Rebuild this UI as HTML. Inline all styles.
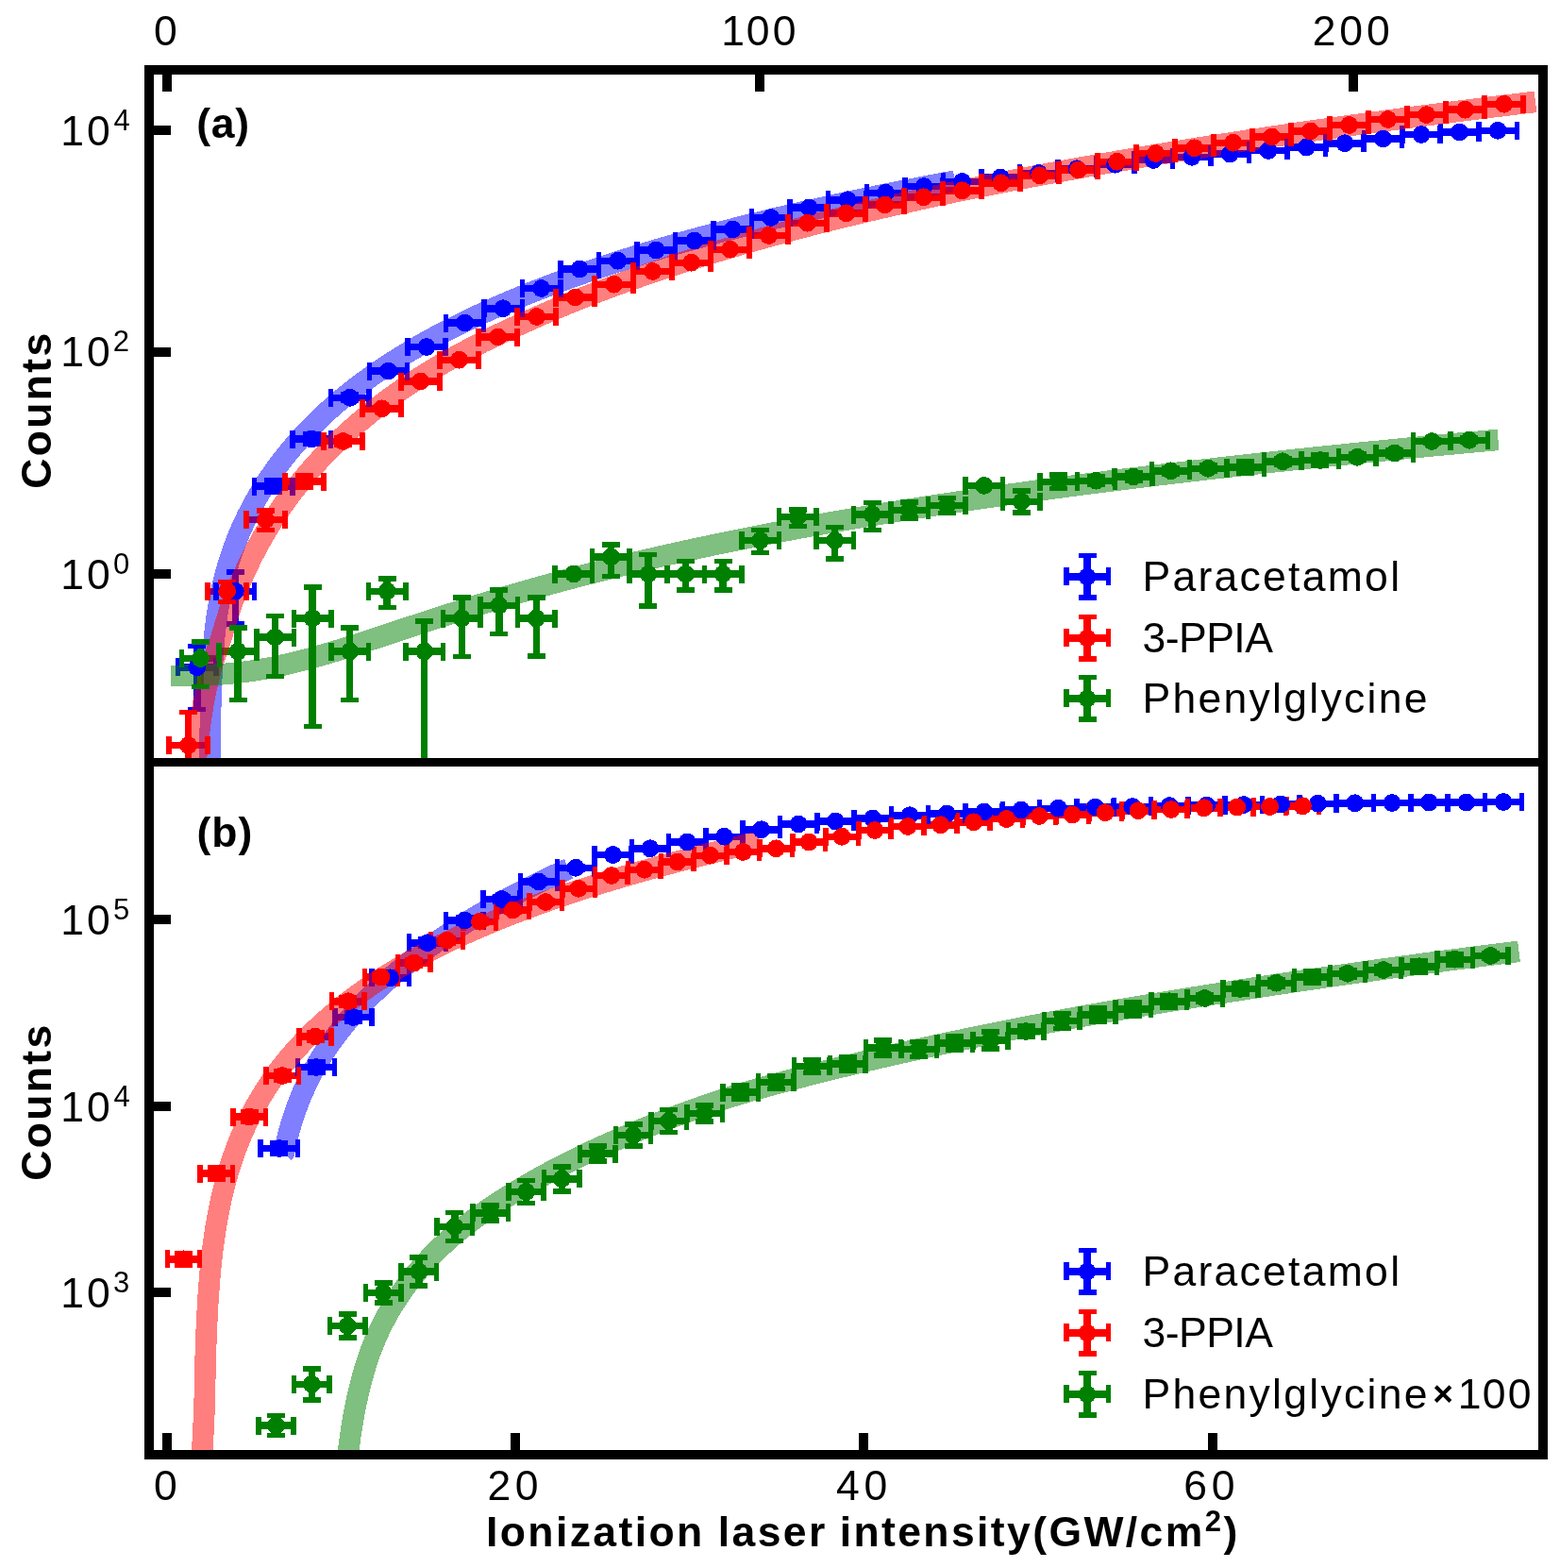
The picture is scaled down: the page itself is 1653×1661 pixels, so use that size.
<!DOCTYPE html>
<html lang="en"><head><meta charset="utf-8"><title>Ionization laser intensity</title>
<style>html,body{margin:0;padding:0;background:#fff}svg{display:block}text{font-family:"Liberation Sans",sans-serif;fill:#000}.b{font-weight:bold}</style></head><body>
<svg width="1653" height="1661" viewBox="0 0 1653 1661">
<rect width="1653" height="1661" fill="#fff"/>
<defs><clipPath id="ct"><rect x="158" y="74" width="1477" height="733.5"/></clipPath><clipPath id="cb"><rect x="158" y="807.5" width="1477" height="733.5"/></clipPath></defs>
<g clip-path="url(#ct)" shape-rendering="crispEdges">
<path fill="#0000ff" d="M188.55 703.15H228.95V710.65H188.55ZM229.09 622.5H269.49V630H229.09ZM269.63 511.25H310.03V518.75H269.63ZM310.17 461.25H350.57V468.75H310.17ZM350.71 417.5H391.11V425H350.71ZM391.25 389.25H431.65V396.75H391.25ZM431.79 363.75H472.19V371.25H431.79ZM472.33 338.25H512.73V345.75H472.33ZM512.87 323H553.27V330.5H512.87ZM553.41 301.75H593.81V309.25H553.41ZM593.95 281.25H634.35V288.75H593.95ZM634.49 272.5H674.89V280H634.49ZM675.03 261.25H715.43V268.75H675.03ZM715.57 251.25H755.97V258.75H715.57ZM756.11 239.25H796.51V246.75H756.11ZM796.65 226.75H837.05V234.25H796.65ZM837.19 216.25H877.59V223.75H837.19ZM877.73 208H918.13V215.5H877.73ZM918.27 200.5H958.67V208H918.27ZM958.81 193.75H999.21V201.25H958.81ZM999.35 188.75H1039.75V196.25H999.35ZM1039.89 184.25H1080.29V191.75H1039.89ZM1080.43 179.75H1120.83V187.25H1080.43ZM1120.97 175H1161.37V182.5H1120.97ZM1161.51 170.5H1201.91V178H1161.51ZM1202.05 165.75H1242.45V173.25H1202.05ZM1242.59 162.5H1282.99V170H1242.59ZM1283.13 159.25H1323.53V166.75H1283.13ZM1323.67 155.75H1364.07V163.25H1323.67ZM1364.21 152.25H1404.61V159.75H1364.21ZM1404.75 148H1445.15V155.5H1404.75ZM1445.29 143.25H1485.69V150.75H1445.29ZM1485.83 138.75H1526.23V146.25H1485.83ZM1526.37 136.25H1566.77V143.75H1526.37ZM1566.91 134.55H1607.31V142.05H1566.91ZM205 684.25H212.5V751.25H205ZM245.54 605.75H253.04V660.75H245.54ZM286.08 509H293.58V521H286.08ZM326.62 460H334.12V470H326.62ZM367.16 418H374.66V424.5H367.16Z"/>
<path fill="#ff0000" d="M179.1 785.75H220.1V793.25H179.1ZM220.1 622.5H261.1V630H220.1ZM261.1 546.75H302.1V554.25H261.1ZM302.1 506.25H343.1V513.75H302.1ZM343.1 463.75H384.1V471.25H343.1ZM384.1 429H425.1V436.5H384.1ZM425.1 400.25H466.1V407.75H425.1ZM466.1 377.5H507.1V385H466.1ZM507.1 353.25H548.1V360.75H507.1ZM548.1 331.75H589.1V339.25H548.1ZM589.1 311.25H630.1V318.75H589.1ZM630.1 297.5H671.1V305H630.1ZM671.1 283.75H712.1V291.25H671.1ZM712.1 274.5H753.1V282H712.1ZM753.1 260.5H794.1V268H753.1ZM794.1 245.75H835.1V253.25H794.1ZM835.1 232.5H876.1V240H835.1ZM876.1 222H917.1V229.5H876.1ZM917.1 213.25H958.1V220.75H917.1ZM958.1 205H999.1V212.5H958.1ZM999.1 198H1040.1V205.5H999.1ZM1040.1 190H1081.1V197.5H1040.1ZM1081.1 182H1122.1V189.5H1081.1ZM1122.1 176.25H1163.1V183.75H1122.1ZM1163.1 167.5H1204.1V175H1163.1ZM1204.1 158.75H1245.1V166.25H1204.1ZM1245.1 153H1286.1V160.5H1245.1ZM1286.1 147.5H1327.1V155H1286.1ZM1327.1 141.25H1368.1V148.75H1327.1ZM1368.1 135.25H1409.1V142.75H1368.1ZM1409.1 128.75H1450.1V136.25H1409.1ZM1450.1 122.75H1491.1V130.25H1450.1ZM1491.1 117.85H1532.1V125.35H1491.1ZM1532.1 112.45H1573.1V119.95H1532.1ZM1573.1 106.55H1614.1V114.05H1573.1ZM195.85 754.5H203.35V860H195.85ZM236.85 616.5H244.35V637.5H236.85ZM277.85 540.75H285.35V561.25H277.85ZM318.85 504H326.35V516H318.85ZM359.85 463.5H367.35V471.5H359.85Z"/>
<path fill="#008000" d="M192.7 693.75H232.3V701.25H192.7ZM232.24 686.25H271.84V693.75H232.24ZM271.78 671.25H311.38V678.75H271.78ZM311.32 651.25H350.92V658.75H311.32ZM350.86 686.25H390.46V693.75H350.86ZM390.4 622.5H430V630H390.4ZM429.94 686.25H469.54V693.75H429.94ZM469.48 651.25H509.08V658.75H469.48ZM509.02 637.5H548.62V645H509.02ZM548.56 651.25H588.16V658.75H548.56ZM588.1 604.25H627.7V611.75H588.1ZM627.64 586.25H667.24V593.75H627.64ZM667.18 604.25H706.78V611.75H667.18ZM706.72 604.25H746.32V611.75H706.72ZM746.26 604.25H785.86V611.75H746.26ZM785.8 568.75H825.4V576.25H785.8ZM825.34 543.75H864.94V551.25H825.34ZM864.88 568.75H904.48V576.25H864.88ZM904.42 541.25H944.02V548.75H904.42ZM943.96 536.85H983.56V544.35H943.96ZM983.5 531.75H1023.1V539.25H983.5ZM1023.04 510.65H1062.64V518.15H1023.04ZM1062.58 527.65H1102.18V535.15H1062.58ZM1102.12 506.55H1141.72V514.05H1102.12ZM1141.66 505.5H1181.26V513H1141.66ZM1181.2 501.25H1220.8V508.75H1181.2ZM1220.74 495H1260.34V502.5H1220.74ZM1260.28 492.5H1299.88V500H1260.28ZM1299.82 491.25H1339.42V498.75H1299.82ZM1339.36 485H1378.96V492.5H1339.36ZM1378.9 483.75H1418.5V491.25H1378.9ZM1418.44 480.5H1458.04V488H1418.44ZM1457.98 476.25H1497.58V483.75H1457.98ZM1497.52 463.75H1537.12V471.25H1497.52ZM1537.06 462.5H1576.66V470H1537.06ZM208.75 680H216.25V727.5H208.75ZM248.29 665H255.79V741.25H248.29ZM287.83 652.5H295.33V716.25H287.83ZM327.37 622H334.87V769.5H327.37ZM366.91 665H374.41V741.25H366.91ZM406.45 613H413.95V643.25H406.45ZM445.99 658H453.49V870H445.99ZM485.53 633H493.03V695.5H485.53ZM525.07 625H532.57V671.25H525.07ZM564.61 633H572.11V695H564.61ZM643.69 577H651.19V610.5H643.69ZM683.23 587.5H690.73V642H683.23ZM722.77 594.5H730.27V625H722.77ZM762.31 594.5H769.81V625H762.31ZM801.85 561.25H809.35V585.5H801.85ZM841.39 540H848.89V557.5H841.39ZM880.93 558.25H888.43V592H880.93ZM920.47 532.5H927.97V561.25H920.47ZM960.01 532H967.51V549.2H960.01ZM999.55 527.7H1007.05V543.3H999.55ZM1039.09 513.4H1046.59V515.4H1039.09ZM1078.63 519.9H1086.13V542.9H1078.63ZM1118.17 502.9H1125.67V517.7H1118.17ZM1157.71 505H1165.21V513.5H1157.71ZM1197.25 501H1204.75V509H1197.25ZM1236.79 496H1244.29V502H1236.79ZM1276.33 493H1283.83V499H1276.33ZM1315.87 489H1323.37V501H1315.87ZM1355.41 486H1362.91V492H1355.41ZM1394.95 481.5H1402.45V493.5H1394.95ZM1434.49 481H1441.99V487H1434.49ZM1474.03 477H1481.53V483H1474.03ZM1513.57 465.5H1521.07V469.5H1513.57ZM1553.11 464H1560.61V468H1553.11Z"/>
<path fill="#0000ff" d="M185.8 697.4H191.3V716.4H185.8ZM226.2 697.4H231.7V716.4H226.2ZM199.25 681.5H218.25V687H199.25ZM199.25 748.5H218.25V754H199.25ZM226.34 616.75H231.84V635.75H226.34ZM266.74 616.75H272.24V635.75H266.74ZM239.79 603H258.79V608.5H239.79ZM239.79 658H258.79V663.5H239.79ZM266.88 505.5H272.38V524.5H266.88ZM307.28 505.5H312.78V524.5H307.28ZM280.33 506.25H299.33V511.75H280.33ZM280.33 518.25H299.33V523.75H280.33ZM307.42 455.5H312.92V474.5H307.42ZM347.82 455.5H353.32V474.5H347.82ZM320.87 457.25H339.87V462.75H320.87ZM320.87 467.25H339.87V472.75H320.87ZM347.96 411.75H353.46V430.75H347.96ZM388.36 411.75H393.86V430.75H388.36ZM361.41 415.25H380.41V420.75H361.41ZM361.41 421.75H380.41V427.25H361.41ZM388.5 383.5H394V402.5H388.5ZM428.9 383.5H434.4V402.5H428.9ZM401.95 390.25H420.95V395.75H401.95ZM401.95 390.25H420.95V395.75H401.95ZM429.04 358H434.54V377H429.04ZM469.44 358H474.94V377H469.44ZM442.49 364.75H461.49V370.25H442.49ZM442.49 364.75H461.49V370.25H442.49ZM469.58 332.5H475.08V351.5H469.58ZM509.98 332.5H515.48V351.5H509.98ZM483.03 339.25H502.03V344.75H483.03ZM483.03 339.25H502.03V344.75H483.03ZM510.12 317.25H515.62V336.25H510.12ZM550.52 317.25H556.02V336.25H550.52ZM523.57 324H542.57V329.5H523.57ZM523.57 324H542.57V329.5H523.57ZM550.66 296H556.16V315H550.66ZM591.06 296H596.56V315H591.06ZM564.11 302.75H583.11V308.25H564.11ZM564.11 302.75H583.11V308.25H564.11ZM591.2 275.5H596.7V294.5H591.2ZM631.6 275.5H637.1V294.5H631.6ZM604.65 282.25H623.65V287.75H604.65ZM604.65 282.25H623.65V287.75H604.65ZM631.74 266.75H637.24V285.75H631.74ZM672.14 266.75H677.64V285.75H672.14ZM645.19 273.5H664.19V279H645.19ZM645.19 273.5H664.19V279H645.19ZM672.28 255.5H677.78V274.5H672.28ZM712.68 255.5H718.18V274.5H712.68ZM685.73 262.25H704.73V267.75H685.73ZM685.73 262.25H704.73V267.75H685.73ZM712.82 245.5H718.32V264.5H712.82ZM753.22 245.5H758.72V264.5H753.22ZM726.27 252.25H745.27V257.75H726.27ZM726.27 252.25H745.27V257.75H726.27ZM753.36 233.5H758.86V252.5H753.36ZM793.76 233.5H799.26V252.5H793.76ZM766.81 240.25H785.81V245.75H766.81ZM766.81 240.25H785.81V245.75H766.81ZM793.9 221H799.4V240H793.9ZM834.3 221H839.8V240H834.3ZM807.35 227.75H826.35V233.25H807.35ZM807.35 227.75H826.35V233.25H807.35ZM834.44 210.5H839.94V229.5H834.44ZM874.84 210.5H880.34V229.5H874.84ZM847.89 217.25H866.89V222.75H847.89ZM847.89 217.25H866.89V222.75H847.89ZM874.98 202.25H880.48V221.25H874.98ZM915.38 202.25H920.88V221.25H915.38ZM888.43 209H907.43V214.5H888.43ZM888.43 209H907.43V214.5H888.43ZM915.52 194.75H921.02V213.75H915.52ZM955.92 194.75H961.42V213.75H955.92ZM928.97 201.5H947.97V207H928.97ZM928.97 201.5H947.97V207H928.97ZM956.06 188H961.56V207H956.06ZM996.46 188H1001.96V207H996.46ZM969.51 194.75H988.51V200.25H969.51ZM969.51 194.75H988.51V200.25H969.51ZM996.6 183H1002.1V202H996.6ZM1037 183H1042.5V202H1037ZM1010.05 189.75H1029.05V195.25H1010.05ZM1010.05 189.75H1029.05V195.25H1010.05ZM1037.14 178.5H1042.64V197.5H1037.14ZM1077.54 178.5H1083.04V197.5H1077.54ZM1050.59 185.25H1069.59V190.75H1050.59ZM1050.59 185.25H1069.59V190.75H1050.59ZM1077.68 174H1083.18V193H1077.68ZM1118.08 174H1123.58V193H1118.08ZM1091.13 180.75H1110.13V186.25H1091.13ZM1091.13 180.75H1110.13V186.25H1091.13ZM1118.22 169.25H1123.72V188.25H1118.22ZM1158.62 169.25H1164.12V188.25H1158.62ZM1131.67 176H1150.67V181.5H1131.67ZM1131.67 176H1150.67V181.5H1131.67ZM1158.76 164.75H1164.26V183.75H1158.76ZM1199.16 164.75H1204.66V183.75H1199.16ZM1172.21 171.5H1191.21V177H1172.21ZM1172.21 171.5H1191.21V177H1172.21ZM1199.3 160H1204.8V179H1199.3ZM1239.7 160H1245.2V179H1239.7ZM1212.75 166.75H1231.75V172.25H1212.75ZM1212.75 166.75H1231.75V172.25H1212.75ZM1239.84 156.75H1245.34V175.75H1239.84ZM1280.24 156.75H1285.74V175.75H1280.24ZM1253.29 163.5H1272.29V169H1253.29ZM1253.29 163.5H1272.29V169H1253.29ZM1280.38 153.5H1285.88V172.5H1280.38ZM1320.78 153.5H1326.28V172.5H1320.78ZM1293.83 160.25H1312.83V165.75H1293.83ZM1293.83 160.25H1312.83V165.75H1293.83ZM1320.92 150H1326.42V169H1320.92ZM1361.32 150H1366.82V169H1361.32ZM1334.37 156.75H1353.37V162.25H1334.37ZM1334.37 156.75H1353.37V162.25H1334.37ZM1361.46 146.5H1366.96V165.5H1361.46ZM1401.86 146.5H1407.36V165.5H1401.86ZM1374.91 153.25H1393.91V158.75H1374.91ZM1374.91 153.25H1393.91V158.75H1374.91ZM1402 142.25H1407.5V161.25H1402ZM1442.4 142.25H1447.9V161.25H1442.4ZM1415.45 149H1434.45V154.5H1415.45ZM1415.45 149H1434.45V154.5H1415.45ZM1442.54 137.5H1448.04V156.5H1442.54ZM1482.94 137.5H1488.44V156.5H1482.94ZM1455.99 144.25H1474.99V149.75H1455.99ZM1455.99 144.25H1474.99V149.75H1455.99ZM1483.08 133H1488.58V152H1483.08ZM1523.48 133H1528.98V152H1523.48ZM1496.53 139.75H1515.53V145.25H1496.53ZM1496.53 139.75H1515.53V145.25H1496.53ZM1523.62 130.5H1529.12V149.5H1523.62ZM1564.02 130.5H1569.52V149.5H1564.02ZM1537.07 137.25H1556.07V142.75H1537.07ZM1537.07 137.25H1556.07V142.75H1537.07ZM1564.16 128.8H1569.66V147.8H1564.16ZM1604.56 128.8H1610.06V147.8H1604.56ZM1577.61 135.55H1596.61V141.05H1577.61ZM1577.61 135.55H1596.61V141.05H1577.61Z"/>
<path d="M222.21 900 L222.21 899.69 L222.21 898.29 L222.21 895.44 L222.22 891.09 L222.22 885.43 L222.23 878.78 L222.24 871.48 L222.26 863.83 L222.27 856.07 L222.29 848.36 L222.31 840.81 L222.33 833.49 L222.36 826.42 L222.39 819.62 L222.43 813.1 L222.46 806.84 L222.51 800.85 L222.55 795.1 L222.6 789.58 L222.65 784.28 L222.71 779.18 L222.77 774.27 L222.84 769.54 L222.91 764.98 L222.99 760.57 L223.07 756.31 L223.15 752.19 L223.24 748.19 L223.33 744.31 L223.43 740.54 L223.54 736.88 L223.65 733.32 L223.76 729.85 L223.88 726.47 L224.01 723.17 L224.14 719.95 L224.28 716.8 L224.42 713.72 L224.57 710.71 L224.72 707.76 L224.88 704.87 L225.05 702.04 L225.22 699.26 L225.4 696.53 L225.58 693.84 L225.77 691.21 L225.97 688.61 L226.17 686.06 L226.38 683.55 L226.6 681.07 L226.82 678.63 L227.05 676.23 L227.29 673.86 L227.53 671.51 L227.78 669.2 L228.04 666.92 L228.3 664.66 L228.57 662.43 L228.85 660.22 L229.14 658.04 L229.43 655.88 L229.73 653.74 L230.03 651.63 L230.35 649.53 L230.67 647.45 L231 645.39 L231.34 643.34 L231.68 641.32 L232.03 639.3 L232.39 637.31 L232.76 635.33 L233.13 633.36 L233.52 631.4 L233.91 629.46 L234.31 627.53 L234.72 625.62 L235.13 623.71 L235.55 621.81 L235.99 619.93 L236.43 618.05 L236.88 616.19 L237.33 614.33 L237.8 612.48 L238.27 610.64 L238.75 608.81 L239.24 606.99 L239.74 605.17 L240.25 603.36 L240.77 601.56 L241.29 599.77 L241.83 597.98 L242.37 596.19 L242.93 594.42 L243.49 592.65 L244.06 590.88 L244.64 589.12 L245.22 587.36 L245.82 585.61 L246.43 583.86 L247.05 582.12 L247.67 580.38 L248.31 578.65 L248.95 576.92 L249.6 575.2 L250.27 573.47 L250.94 571.76 L251.62 570.04 L252.32 568.33 L253.02 566.62 L253.73 564.92 L254.45 563.22 L255.18 561.52 L255.92 559.82 L256.67 558.13 L257.43 556.44 L258.2 554.76 L258.98 553.07 L259.78 551.39 L260.58 549.71 L261.39 548.04 L262.21 546.36 L263.04 544.69 L263.88 543.03 L264.73 541.36 L265.6 539.7 L266.47 538.04 L267.35 536.38 L268.25 534.72 L269.15 533.07 L270.07 531.42 L270.99 529.77 L271.93 528.12 L272.88 526.48 L273.83 524.84 L274.8 523.2 L275.78 521.56 L276.77 519.92 L277.77 518.29 L278.78 516.66 L279.81 515.03 L280.84 513.41 L281.89 511.78 L282.94 510.16 L284.01 508.54 L285.09 506.93 L286.18 505.31 L287.28 503.7 L288.39 502.09 L289.51 500.49 L290.65 498.88 L291.8 497.28 L292.95 495.68 L294.12 494.09 L295.3 492.49 L296.5 490.9 L297.7 489.31 L298.92 487.72 L300.14 486.14 L301.38 484.56 L302.63 482.98 L303.9 481.4 L305.17 479.83 L306.46 478.26 L307.75 476.69 L309.06 475.13 L310.39 473.56 L311.72 472 L313.07 470.45 L314.42 468.89 L315.79 467.34 L317.18 465.79 L318.57 464.25 L319.98 462.7 L321.4 461.16 L322.83 459.62 L324.27 458.09 L325.73 456.56 L327.2 455.03 L328.68 453.5 L330.17 451.98 L331.68 450.46 L333.19 448.95 L334.72 447.43 L336.27 445.92 L337.82 444.41 L339.39 442.91 L340.97 441.41 L342.57 439.91 L344.17 438.41 L345.79 436.92 L347.43 435.43 L349.07 433.95 L350.73 432.46 L352.4 430.98 L354.09 429.51 L355.78 428.03 L357.49 426.56 L359.22 425.1 L360.95 423.63 L362.7 422.17 L364.47 420.72 L366.24 419.26 L368.03 417.81 L369.83 416.36 L371.65 414.92 L373.48 413.48 L375.32 412.04 L377.18 410.61 L379.05 409.17 L380.93 407.75 L382.82 406.32 L384.73 404.9 L386.66 403.48 L388.59 402.07 L390.55 400.66 L392.51 399.25 L394.49 397.84 L396.48 396.44 L398.48 395.04 L400.5 393.65 L402.54 392.26 L404.58 390.87 L406.64 389.48 L408.72 388.1 L410.81 386.72 L412.91 385.35 L415.03 383.97 L417.16 382.61 L419.3 381.24 L421.46 379.88 L423.63 378.52 L425.82 377.16 L428.02 375.81 L430.24 374.46 L432.47 373.12 L434.71 371.78 L436.97 370.44 L439.24 369.1 L441.53 367.77 L443.83 366.44 L446.15 365.11 L448.48 363.79 L450.82 362.47 L453.18 361.16 L455.55 359.84 L457.94 358.53 L460.34 357.23 L462.76 355.92 L465.19 354.63 L467.64 353.33 L470.1 352.04 L472.58 350.75 L475.07 349.46 L477.58 348.17 L480.1 346.89 L482.63 345.62 L485.18 344.34 L487.75 343.07 L490.33 341.8 L492.93 340.54 L495.54 339.28 L498.16 338.02 L500.8 336.77 L503.46 335.51 L506.13 334.26 L508.81 333.02 L511.52 331.78 L514.23 330.54 L516.96 329.3 L519.71 328.07 L522.47 326.84 L525.25 325.61 L528.04 324.39 L530.85 323.17 L533.68 321.95 L536.52 320.73 L539.37 319.52 L542.24 318.31 L545.13 317.11 L548.03 315.9 L550.94 314.7 L553.88 313.51 L556.83 312.31 L559.79 311.12 L562.77 309.93 L565.76 308.75 L568.77 307.57 L571.8 306.39 L574.84 305.21 L577.9 304.04 L580.98 302.87 L584.07 301.7 L587.17 300.54 L590.29 299.38 L593.43 298.22 L596.59 297.06 L599.76 295.91 L602.94 294.76 L606.14 293.61 L609.36 292.47 L612.6 291.33 L615.85 290.19 L619.11 289.05 L622.4 287.92 L625.7 286.79 L629.01 285.66 L632.34 284.54 L635.69 283.42 L639.06 282.3 L642.44 281.18 L645.83 280.07 L649.25 278.96 L652.68 277.85 L656.12 276.74 L659.59 275.64 L663.07 274.54 L666.56 273.44 L670.08 272.35 L673.6 271.25 L677.15 270.16 L680.71 269.08 L684.29 267.99 L687.89 266.91 L691.5 265.83 L695.13 264.76 L698.78 263.68 L702.44 262.61 L706.12 261.54 L709.82 260.48 L713.53 259.41 L717.26 258.35 L721.01 257.29 L724.77 256.24 L728.55 255.18 L732.35 254.13 L736.17 253.08 L740 252.04 L743.85 250.99 L747.72 249.95 L751.6 248.92 L755.5 247.88 L759.42 246.85 L763.36 245.81 L767.31 244.79 L771.28 243.76 L775.27 242.74 L779.27 241.71 L783.29 240.69 L787.33 239.68 L791.39 238.66 L795.46 237.65 L799.56 236.64 L803.67 235.63 L807.79 234.63 L811.94 233.63 L816.1 232.63 L820.28 231.63 L824.47 230.63 L828.69 229.64 L832.92 228.65 L837.17 227.66 L841.44 226.67 L845.72 225.69 L850.03 224.71 L854.35 223.73 L858.69 222.75 L863.04 221.77 L867.42 220.8 L871.81 219.83 L876.22 218.86 L880.65 217.89 L885.09 216.93 L889.56 215.97 L894.04 215.01 L898.54 214.05 L903.06 213.09 L907.59 212.14 L912.15 211.19 L916.72 210.24 L921.31 209.29 L925.92 208.35 L930.54 207.4 L935.19 206.46 L939.85 205.53 L944.53 204.59 L949.23 203.65 L953.95 202.72 L958.69 201.79 L963.44 200.86 L968.21 199.94 L973 199.01 L977.81 198.09 L982.64 197.17 L987.49 196.25 L992.35 195.33 L997.24 194.42 L1002.14 193.51 L1007.06 192.6 L1012 191.69" fill="none" stroke="#0000ff" stroke-opacity="0.5" stroke-width="22.6" stroke-linejoin="round" stroke-linecap="butt"/>
<path fill="#ff0000" d="M176.35 780H181.85V799H176.35ZM217.35 780H222.85V799H217.35ZM190.1 751.75H209.1V757.25H190.1ZM190.1 857.25H209.1V862.75H190.1ZM217.35 616.75H222.85V635.75H217.35ZM258.35 616.75H263.85V635.75H258.35ZM231.1 613.75H250.1V619.25H231.1ZM231.1 634.75H250.1V640.25H231.1ZM258.35 541H263.85V560H258.35ZM299.35 541H304.85V560H299.35ZM272.1 538H291.1V543.5H272.1ZM272.1 558.5H291.1V564H272.1ZM299.35 500.5H304.85V519.5H299.35ZM340.35 500.5H345.85V519.5H340.35ZM313.1 501.25H332.1V506.75H313.1ZM313.1 513.25H332.1V518.75H313.1ZM340.35 458H345.85V477H340.35ZM381.35 458H386.85V477H381.35ZM354.1 460.75H373.1V466.25H354.1ZM354.1 468.75H373.1V474.25H354.1ZM381.35 423.25H386.85V442.25H381.35ZM422.35 423.25H427.85V442.25H422.35ZM395.1 430H414.1V435.5H395.1ZM395.1 430H414.1V435.5H395.1ZM422.35 394.5H427.85V413.5H422.35ZM463.35 394.5H468.85V413.5H463.35ZM436.1 401.25H455.1V406.75H436.1ZM436.1 401.25H455.1V406.75H436.1ZM463.35 371.75H468.85V390.75H463.35ZM504.35 371.75H509.85V390.75H504.35ZM477.1 378.5H496.1V384H477.1ZM477.1 378.5H496.1V384H477.1ZM504.35 347.5H509.85V366.5H504.35ZM545.35 347.5H550.85V366.5H545.35ZM518.1 354.25H537.1V359.75H518.1ZM518.1 354.25H537.1V359.75H518.1ZM545.35 326H550.85V345H545.35ZM586.35 326H591.85V345H586.35ZM559.1 332.75H578.1V338.25H559.1ZM559.1 332.75H578.1V338.25H559.1ZM586.35 305.5H591.85V324.5H586.35ZM627.35 305.5H632.85V324.5H627.35ZM600.1 312.25H619.1V317.75H600.1ZM600.1 312.25H619.1V317.75H600.1ZM627.35 291.75H632.85V310.75H627.35ZM668.35 291.75H673.85V310.75H668.35ZM641.1 298.5H660.1V304H641.1ZM641.1 298.5H660.1V304H641.1ZM668.35 278H673.85V297H668.35ZM709.35 278H714.85V297H709.35ZM682.1 284.75H701.1V290.25H682.1ZM682.1 284.75H701.1V290.25H682.1ZM709.35 268.75H714.85V287.75H709.35ZM750.35 268.75H755.85V287.75H750.35ZM723.1 275.5H742.1V281H723.1ZM723.1 275.5H742.1V281H723.1ZM750.35 254.75H755.85V273.75H750.35ZM791.35 254.75H796.85V273.75H791.35ZM764.1 261.5H783.1V267H764.1ZM764.1 261.5H783.1V267H764.1ZM791.35 240H796.85V259H791.35ZM832.35 240H837.85V259H832.35ZM805.1 246.75H824.1V252.25H805.1ZM805.1 246.75H824.1V252.25H805.1ZM832.35 226.75H837.85V245.75H832.35ZM873.35 226.75H878.85V245.75H873.35ZM846.1 233.5H865.1V239H846.1ZM846.1 233.5H865.1V239H846.1ZM873.35 216.25H878.85V235.25H873.35ZM914.35 216.25H919.85V235.25H914.35ZM887.1 223H906.1V228.5H887.1ZM887.1 223H906.1V228.5H887.1ZM914.35 207.5H919.85V226.5H914.35ZM955.35 207.5H960.85V226.5H955.35ZM928.1 214.25H947.1V219.75H928.1ZM928.1 214.25H947.1V219.75H928.1ZM955.35 199.25H960.85V218.25H955.35ZM996.35 199.25H1001.85V218.25H996.35ZM969.1 206H988.1V211.5H969.1ZM969.1 206H988.1V211.5H969.1ZM996.35 192.25H1001.85V211.25H996.35ZM1037.35 192.25H1042.85V211.25H1037.35ZM1010.1 199H1029.1V204.5H1010.1ZM1010.1 199H1029.1V204.5H1010.1ZM1037.35 184.25H1042.85V203.25H1037.35ZM1078.35 184.25H1083.85V203.25H1078.35ZM1051.1 191H1070.1V196.5H1051.1ZM1051.1 191H1070.1V196.5H1051.1ZM1078.35 176.25H1083.85V195.25H1078.35ZM1119.35 176.25H1124.85V195.25H1119.35ZM1092.1 183H1111.1V188.5H1092.1ZM1092.1 183H1111.1V188.5H1092.1ZM1119.35 170.5H1124.85V189.5H1119.35ZM1160.35 170.5H1165.85V189.5H1160.35ZM1133.1 177.25H1152.1V182.75H1133.1ZM1133.1 177.25H1152.1V182.75H1133.1ZM1160.35 161.75H1165.85V180.75H1160.35ZM1201.35 161.75H1206.85V180.75H1201.35ZM1174.1 168.5H1193.1V174H1174.1ZM1174.1 168.5H1193.1V174H1174.1ZM1201.35 153H1206.85V172H1201.35ZM1242.35 153H1247.85V172H1242.35ZM1215.1 159.75H1234.1V165.25H1215.1ZM1215.1 159.75H1234.1V165.25H1215.1ZM1242.35 147.25H1247.85V166.25H1242.35ZM1283.35 147.25H1288.85V166.25H1283.35ZM1256.1 154H1275.1V159.5H1256.1ZM1256.1 154H1275.1V159.5H1256.1ZM1283.35 141.75H1288.85V160.75H1283.35ZM1324.35 141.75H1329.85V160.75H1324.35ZM1297.1 148.5H1316.1V154H1297.1ZM1297.1 148.5H1316.1V154H1297.1ZM1324.35 135.5H1329.85V154.5H1324.35ZM1365.35 135.5H1370.85V154.5H1365.35ZM1338.1 142.25H1357.1V147.75H1338.1ZM1338.1 142.25H1357.1V147.75H1338.1ZM1365.35 129.5H1370.85V148.5H1365.35ZM1406.35 129.5H1411.85V148.5H1406.35ZM1379.1 136.25H1398.1V141.75H1379.1ZM1379.1 136.25H1398.1V141.75H1379.1ZM1406.35 123H1411.85V142H1406.35ZM1447.35 123H1452.85V142H1447.35ZM1420.1 129.75H1439.1V135.25H1420.1ZM1420.1 129.75H1439.1V135.25H1420.1ZM1447.35 117H1452.85V136H1447.35ZM1488.35 117H1493.85V136H1488.35ZM1461.1 123.75H1480.1V129.25H1461.1ZM1461.1 123.75H1480.1V129.25H1461.1ZM1488.35 112.1H1493.85V131.1H1488.35ZM1529.35 112.1H1534.85V131.1H1529.35ZM1502.1 118.85H1521.1V124.35H1502.1ZM1502.1 118.85H1521.1V124.35H1502.1ZM1529.35 106.7H1534.85V125.7H1529.35ZM1570.35 106.7H1575.85V125.7H1570.35ZM1543.1 113.45H1562.1V118.95H1543.1ZM1543.1 113.45H1562.1V118.95H1543.1ZM1570.35 100.8H1575.85V119.8H1570.35ZM1611.35 100.8H1616.85V119.8H1611.35ZM1584.1 107.55H1603.1V113.05H1584.1ZM1584.1 107.55H1603.1V113.05H1584.1Z"/>
<path d="M199 900 L199.4 895.49 L199.79 890.98 L200.19 886.47 L200.59 881.96 L201 877.45 L201.4 872.94 L201.81 868.43 L202.22 863.92 L202.63 859.41 L203.05 854.9 L203.46 850.39 L203.88 845.88 L204.29 841.37 L204.69 836.86 L205.1 832.35 L205.51 827.84 L205.93 823.33 L206.35 818.82 L206.79 814.31 L207.24 809.8 L207.71 805.29 L208.2 800.78 L208.69 796.27 L209.19 791.76 L209.7 787.25 L210.21 782.74 L210.75 778.23 L211.3 773.72 L211.87 769.21 L212.47 764.7 L213.1 760.19 L213.76 755.68 L214.45 751.17 L215.19 746.66 L215.98 742.14 L216.85 737.63 L217.79 733.12 L218.79 728.61 L219.86 724.1 L220.97 719.59 L222.13 715.08 L223.33 710.57 L224.56 706.06 L225.81 701.55 L227.16 697.04 L228.64 692.53 L230.19 688.02 L231.76 683.51 L233.3 679 L234.75 674.49 L236.14 669.98 L237.49 665.47 L238.84 660.96 L240.2 656.45 L241.6 651.94 L243.06 647.43 L244.6 642.92 L246.21 638.41 L247.88 633.9 L249.62 629.39 L251.4 624.88 L253.24 620.37 L255.11 615.86 L257.06 611.35 L259.07 606.84 L261.14 602.33 L263.26 597.82 L265.44 593.31 L267.69 588.8 L270.01 584.29 L272.39 579.78 L274.84 575.27 L277.35 570.76 L279.94 566.25 L282.61 561.74 L285.33 557.23 L288.15 552.72 L291.04 548.21 L294 543.7 L294.26 543.31 L294.73 542.61 L295.34 541.7 L296.06 540.63 L296.88 539.43 L297.79 538.11 L298.77 536.68 L299.83 535.17 L300.96 533.57 L302.15 531.89 L303.41 530.15 L304.72 528.35 L306.08 526.49 L307.51 524.57 L308.98 522.61 L310.5 520.61 L312.07 518.57 L313.69 516.49 L315.35 514.38 L317.06 512.25 L318.81 510.08 L320.6 507.89 L322.44 505.68 L324.31 503.45 L326.23 501.21 L328.18 498.94 L330.17 496.67 L332.2 494.38 L334.26 492.08 L336.36 489.78 L338.5 487.46 L340.67 485.15 L342.88 482.82 L345.11 480.49 L347.39 478.16 L349.69 475.83 L352.03 473.5 L354.39 471.17 L356.79 468.84 L359.22 466.51 L361.69 464.18 L364.18 461.86 L366.7 459.54 L369.25 457.22 L371.83 454.91 L374.44 452.61 L377.07 450.31 L379.74 448.02 L382.43 445.73 L385.15 443.45 L387.9 441.18 L390.68 438.91 L393.48 436.66 L396.31 434.41 L399.16 432.17 L402.05 429.94 L404.95 427.72 L407.88 425.5 L410.84 423.3 L413.83 421.11 L416.83 418.92 L419.87 416.75 L422.92 414.58 L426.01 412.43 L429.11 410.28 L432.24 408.15 L435.4 406.02 L438.57 403.91 L441.77 401.8 L445 399.71 L448.24 397.63 L451.52 395.58 L454.81 393.57 L458.12 391.57 L461.46 389.58 L464.82 387.61 L468.2 385.64 L471.61 383.69 L475.04 381.74 L478.48 379.81 L481.95 377.89 L485.45 375.98 L488.96 374.08 L492.49 372.19 L496.05 370.31 L499.62 368.44 L503.22 366.58 L506.84 364.73 L510.48 362.89 L514.13 361.07 L517.81 359.25 L521.51 357.44 L525.23 355.65 L528.97 353.86 L532.73 352.09 L536.51 350.32 L540.31 348.57 L544.13 346.82 L547.97 345.09 L551.82 343.36 L555.7 341.64 L559.6 339.94 L563.51 338.18 L567.45 336.42 L571.4 334.67 L575.37 332.93 L579.36 331.19 L583.37 329.47 L587.4 327.76 L591.45 326.05 L595.51 324.36 L599.6 322.67 L603.7 320.99 L607.82 319.32 L611.96 317.66 L616.11 316.01 L620.29 314.36 L624.48 312.73 L628.69 311.1 L632.92 309.48 L637.16 307.87 L641.43 306.26 L645.71 304.67 L650 303.08 L654.32 301.5 L658.65 299.93 L663 298.37 L667.37 296.81 L671.75 295.26 L676.15 293.72 L680.57 292.19 L685.01 290.67 L689.46 289.15 L693.93 287.64 L698.41 286.14 L702.91 284.63 L707.43 283.12 L711.97 281.62 L716.52 280.13 L721.09 278.64 L725.67 277.16 L730.27 275.69 L734.89 274.23 L739.52 272.77 L744.17 271.32 L748.83 269.87 L753.51 268.43 L758.21 267 L762.92 265.58 L767.65 264.16 L772.4 262.74 L777.16 261.34 L781.93 259.94 L786.72 258.54 L791.53 257.16 L796.35 255.78 L801.19 254.4 L806.05 253.03 L810.91 251.67 L815.8 250.31 L820.7 248.96 L825.61 247.61 L830.54 246.27 L835.49 244.94 L840.45 243.61 L845.42 242.29 L850.41 240.97 L855.42 239.66 L860.44 238.36 L865.47 237.07 L870.52 235.79 L875.59 234.51 L880.67 233.24 L885.76 231.98 L890.87 230.72 L895.99 229.46 L901.13 228.22 L906.28 226.97 L911.45 225.73 L916.63 224.5 L921.83 223.27 L927.04 222.05 L932.26 220.83 L937.5 219.61 L942.76 218.41 L948.02 217.2 L953.3 216 L958.6 214.81 L963.91 213.62 L969.23 212.44 L974.57 211.26 L979.92 210.08 L985.29 208.91 L990.67 207.75 L996.06 206.58 L1001.47 205.43 L1006.89 204.3 L1012.33 203.17 L1017.77 202.05 L1023.24 200.93 L1028.71 199.81 L1034.2 198.7 L1039.71 197.6 L1045.22 196.5 L1050.75 195.4 L1056.3 194.3 L1061.85 193.22 L1067.43 192.13 L1073.01 191.05 L1078.61 189.97 L1084.22 188.9 L1089.84 187.83 L1095.48 186.77 L1101.13 185.71 L1106.8 184.65 L1112.47 183.6 L1118.16 182.55 L1123.87 181.51 L1129.58 180.47 L1135.31 179.43 L1141.06 178.4 L1146.81 177.37 L1152.58 176.34 L1158.36 175.32 L1164.16 174.31 L1169.96 173.29 L1175.78 172.28 L1181.62 171.28 L1187.46 170.27 L1193.32 169.27 L1199.19 168.28 L1205.08 167.29 L1210.97 166.3 L1216.88 165.31 L1222.81 164.33 L1228.74 163.35 L1234.69 162.38 L1240.65 161.41 L1246.62 160.44 L1252.61 159.47 L1258.6 158.51 L1264.61 157.56 L1270.64 156.6 L1276.67 155.65 L1282.72 154.7 L1288.78 153.76 L1294.85 152.82 L1300.93 151.88 L1307.03 150.94 L1313.14 150.01 L1319.26 149.08 L1325.39 148.16 L1331.54 147.23 L1337.7 146.31 L1343.87 145.4 L1350.05 144.49 L1356.24 143.57 L1362.45 142.67 L1368.66 141.76 L1374.89 140.86 L1381.14 139.96 L1387.39 139.07 L1393.66 138.18 L1399.93 137.29 L1406.22 136.4 L1412.53 135.52 L1418.84 134.64 L1425.16 133.76 L1431.5 132.88 L1437.85 132.01 L1444.21 131.14 L1450.58 130.27 L1456.97 129.41 L1463.36 128.55 L1469.77 127.69 L1476.19 126.83 L1482.62 125.98 L1489.06 125.13 L1495.52 124.28 L1501.98 123.43 L1508.46 122.59 L1514.95 121.75 L1521.45 120.91 L1527.96 120.08 L1534.48 119.25 L1541.02 118.42 L1547.56 117.59 L1554.12 116.76 L1560.69 115.94 L1567.27 115.12 L1573.86 114.3 L1580.46 113.49 L1587.08 112.68 L1593.7 111.87 L1600.34 111.06 L1606.99 110.25 L1613.65 109.45 L1620.32 108.65 L1627 107.85" fill="none" stroke="#ff0000" stroke-opacity="0.5" stroke-width="22.6" stroke-linejoin="round" stroke-linecap="butt"/>
<path fill="#008000" d="M189.95 688H195.45V707H189.95ZM229.55 688H235.05V707H229.55ZM203 677.25H222V682.75H203ZM203 724.75H222V730.25H203ZM229.49 680.5H234.99V699.5H229.49ZM269.09 680.5H274.59V699.5H269.09ZM242.54 662.25H261.54V667.75H242.54ZM242.54 738.5H261.54V744H242.54ZM269.03 665.5H274.53V684.5H269.03ZM308.63 665.5H314.13V684.5H308.63ZM282.08 649.75H301.08V655.25H282.08ZM282.08 713.5H301.08V719H282.08ZM308.57 645.5H314.07V664.5H308.57ZM348.17 645.5H353.67V664.5H348.17ZM321.62 619.25H340.62V624.75H321.62ZM321.62 766.75H340.62V772.25H321.62ZM348.11 680.5H353.61V699.5H348.11ZM387.71 680.5H393.21V699.5H387.71ZM361.16 662.25H380.16V667.75H361.16ZM361.16 738.5H380.16V744H361.16ZM387.65 616.75H393.15V635.75H387.65ZM427.25 616.75H432.75V635.75H427.25ZM400.7 610.25H419.7V615.75H400.7ZM400.7 640.5H419.7V646H400.7ZM427.19 680.5H432.69V699.5H427.19ZM466.79 680.5H472.29V699.5H466.79ZM440.24 655.25H459.24V660.75H440.24ZM440.24 867.25H459.24V872.75H440.24ZM466.73 645.5H472.23V664.5H466.73ZM506.33 645.5H511.83V664.5H506.33ZM479.78 630.25H498.78V635.75H479.78ZM479.78 692.75H498.78V698.25H479.78ZM506.27 631.75H511.77V650.75H506.27ZM545.87 631.75H551.37V650.75H545.87ZM519.32 622.25H538.32V627.75H519.32ZM519.32 668.5H538.32V674H519.32ZM545.81 645.5H551.31V664.5H545.81ZM585.41 645.5H590.91V664.5H585.41ZM558.86 630.25H577.86V635.75H558.86ZM558.86 692.25H577.86V697.75H558.86ZM585.35 598.5H590.85V617.5H585.35ZM624.95 598.5H630.45V617.5H624.95ZM598.4 605.25H617.4V610.75H598.4ZM598.4 605.25H617.4V610.75H598.4ZM624.89 580.5H630.39V599.5H624.89ZM664.49 580.5H669.99V599.5H664.49ZM637.94 574.25H656.94V579.75H637.94ZM637.94 607.75H656.94V613.25H637.94ZM664.43 598.5H669.93V617.5H664.43ZM704.03 598.5H709.53V617.5H704.03ZM677.48 584.75H696.48V590.25H677.48ZM677.48 639.25H696.48V644.75H677.48ZM703.97 598.5H709.47V617.5H703.97ZM743.57 598.5H749.07V617.5H743.57ZM717.02 591.75H736.02V597.25H717.02ZM717.02 622.25H736.02V627.75H717.02ZM743.51 598.5H749.01V617.5H743.51ZM783.11 598.5H788.61V617.5H783.11ZM756.56 591.75H775.56V597.25H756.56ZM756.56 622.25H775.56V627.75H756.56ZM783.05 563H788.55V582H783.05ZM822.65 563H828.15V582H822.65ZM796.1 558.5H815.1V564H796.1ZM796.1 582.75H815.1V588.25H796.1ZM822.59 538H828.09V557H822.59ZM862.19 538H867.69V557H862.19ZM835.64 537.25H854.64V542.75H835.64ZM835.64 554.75H854.64V560.25H835.64ZM862.13 563H867.63V582H862.13ZM901.73 563H907.23V582H901.73ZM875.18 555.5H894.18V561H875.18ZM875.18 589.25H894.18V594.75H875.18ZM901.67 535.5H907.17V554.5H901.67ZM941.27 535.5H946.77V554.5H941.27ZM914.72 529.75H933.72V535.25H914.72ZM914.72 558.5H933.72V564H914.72ZM941.21 531.1H946.71V550.1H941.21ZM980.81 531.1H986.31V550.1H980.81ZM954.26 529.25H973.26V534.75H954.26ZM954.26 546.45H973.26V551.95H954.26ZM980.75 526H986.25V545H980.75ZM1020.35 526H1025.85V545H1020.35ZM993.8 524.95H1012.8V530.45H993.8ZM993.8 540.55H1012.8V546.05H993.8ZM1020.29 504.9H1025.79V523.9H1020.29ZM1059.89 504.9H1065.39V523.9H1059.89ZM1033.34 510.65H1052.34V516.15H1033.34ZM1033.34 512.65H1052.34V518.15H1033.34ZM1059.83 521.9H1065.33V540.9H1059.83ZM1099.43 521.9H1104.93V540.9H1099.43ZM1072.88 517.15H1091.88V522.65H1072.88ZM1072.88 540.15H1091.88V545.65H1072.88ZM1099.37 500.8H1104.87V519.8H1099.37ZM1138.97 500.8H1144.47V519.8H1138.97ZM1112.42 500.15H1131.42V505.65H1112.42ZM1112.42 514.95H1131.42V520.45H1112.42ZM1138.91 499.75H1144.41V518.75H1138.91ZM1178.51 499.75H1184.01V518.75H1178.51ZM1151.96 502.25H1170.96V507.75H1151.96ZM1151.96 510.75H1170.96V516.25H1151.96ZM1178.45 495.5H1183.95V514.5H1178.45ZM1218.05 495.5H1223.55V514.5H1218.05ZM1191.5 498.25H1210.5V503.75H1191.5ZM1191.5 506.25H1210.5V511.75H1191.5ZM1217.99 489.25H1223.49V508.25H1217.99ZM1257.59 489.25H1263.09V508.25H1257.59ZM1231.04 493.25H1250.04V498.75H1231.04ZM1231.04 499.25H1250.04V504.75H1231.04ZM1257.53 486.75H1263.03V505.75H1257.53ZM1297.13 486.75H1302.63V505.75H1297.13ZM1270.58 490.25H1289.58V495.75H1270.58ZM1270.58 496.25H1289.58V501.75H1270.58ZM1297.07 485.5H1302.57V504.5H1297.07ZM1336.67 485.5H1342.17V504.5H1336.67ZM1310.12 486.25H1329.12V491.75H1310.12ZM1310.12 498.25H1329.12V503.75H1310.12ZM1336.61 479.25H1342.11V498.25H1336.61ZM1376.21 479.25H1381.71V498.25H1376.21ZM1349.66 483.25H1368.66V488.75H1349.66ZM1349.66 489.25H1368.66V494.75H1349.66ZM1376.15 478H1381.65V497H1376.15ZM1415.75 478H1421.25V497H1415.75ZM1389.2 478.75H1408.2V484.25H1389.2ZM1389.2 490.75H1408.2V496.25H1389.2ZM1415.69 474.75H1421.19V493.75H1415.69ZM1455.29 474.75H1460.79V493.75H1455.29ZM1428.74 478.25H1447.74V483.75H1428.74ZM1428.74 484.25H1447.74V489.75H1428.74ZM1455.23 470.5H1460.73V489.5H1455.23ZM1494.83 470.5H1500.33V489.5H1494.83ZM1468.28 474.25H1487.28V479.75H1468.28ZM1468.28 480.25H1487.28V485.75H1468.28ZM1494.77 458H1500.27V477H1494.77ZM1534.37 458H1539.87V477H1534.37ZM1507.82 462.75H1526.82V468.25H1507.82ZM1507.82 466.75H1526.82V472.25H1507.82ZM1534.31 456.75H1539.81V475.75H1534.31ZM1573.91 456.75H1579.41V475.75H1573.91ZM1547.36 461.25H1566.36V466.75H1547.36ZM1547.36 465.25H1566.36V470.75H1547.36Z"/>
<path d="M180.5 715.88 L180.5 715.88 L180.5 715.88 L180.51 715.88 L180.51 715.88 L180.52 715.88 L180.54 715.88 L180.56 715.88 L180.58 715.88 L180.61 715.88 L180.64 715.88 L180.68 715.88 L180.72 715.88 L180.77 715.88 L180.82 715.88 L180.89 715.88 L180.95 715.88 L181.03 715.88 L181.11 715.88 L181.2 715.88 L181.29 715.88 L181.39 715.88 L181.5 715.88 L181.62 715.88 L181.75 715.88 L181.88 715.88 L182.03 715.88 L182.18 715.88 L182.34 715.88 L182.5 715.88 L182.68 715.88 L182.87 715.88 L183.06 715.88 L183.27 715.88 L183.48 715.87 L183.71 715.87 L183.94 715.87 L184.18 715.87 L184.44 715.87 L184.7 715.87 L184.98 715.87 L185.26 715.87 L185.56 715.87 L185.86 715.87 L186.18 715.87 L186.51 715.87 L186.85 715.87 L187.2 715.86 L187.56 715.86 L187.94 715.86 L188.32 715.86 L188.72 715.86 L189.13 715.85 L189.55 715.85 L189.98 715.85 L190.43 715.85 L190.88 715.84 L191.35 715.84 L191.84 715.84 L192.33 715.83 L192.84 715.83 L193.36 715.82 L193.89 715.82 L194.44 715.81 L195 715.81 L195.57 715.8 L196.16 715.79 L196.76 715.79 L197.37 715.78 L198 715.77 L198.64 715.76 L199.29 715.75 L199.96 715.74 L200.65 715.73 L201.34 715.72 L202.05 715.7 L202.78 715.69 L203.52 715.67 L204.27 715.66 L205.04 715.64 L205.83 715.62 L206.63 715.6 L207.44 715.58 L208.27 715.56 L209.11 715.54 L209.97 715.51 L210.85 715.48 L211.74 715.46 L212.64 715.43 L213.56 715.39 L214.5 715.36 L215.45 715.32 L216.42 715.28 L217.4 715.24 L218.4 715.2 L219.42 715.16 L220.45 715.11 L221.5 715.06 L222.57 715 L223.65 714.95 L224.74 714.89 L225.86 714.82 L226.99 714.76 L228.14 714.69 L229.3 714.61 L230.48 714.54 L231.68 714.46 L232.9 714.37 L234.13 714.28 L235.38 714.19 L236.65 714.09 L237.93 713.98 L239.24 713.87 L240.56 713.76 L241.89 713.64 L243.25 713.52 L244.62 713.38 L246.01 713.25 L247.42 713.1 L248.85 712.96 L250.29 712.8 L251.76 712.64 L253.24 712.47 L254.74 712.29 L256.26 712.1 L257.79 711.91 L259.35 711.71 L260.92 711.5 L262.51 711.29 L264.13 711.06 L265.76 710.83 L267.4 710.59 L269.07 710.33 L270.76 710.07 L272.47 709.8 L274.19 709.52 L275.94 709.23 L277.7 708.93 L279.48 708.61 L281.29 708.29 L283.11 707.96 L284.95 707.61 L286.81 707.26 L288.69 706.89 L290.6 706.51 L292.52 706.12 L294.46 705.71 L296.42 705.3 L298.4 704.87 L300.4 704.43 L302.42 703.98 L304.47 703.51 L306.53 703.03 L308.61 702.54 L310.72 702.03 L312.84 701.52 L314.98 700.99 L317.15 700.44 L319.34 699.88 L321.54 699.31 L323.77 698.73 L326.02 698.13 L328.29 697.52 L330.58 696.89 L332.9 696.25 L335.23 695.6 L337.58 694.94 L339.96 694.26 L342.36 693.57 L344.78 692.86 L347.22 692.14 L349.68 691.41 L352.17 690.67 L354.67 689.91 L357.2 689.14 L359.75 688.36 L362.32 687.56 L364.91 686.76 L367.53 685.94 L370.17 685.11 L372.83 684.27 L375.51 683.41 L378.22 682.55 L380.94 681.67 L383.69 680.78 L386.46 679.89 L389.26 678.98 L392.08 678.06 L394.92 677.13 L397.78 676.19 L400.66 675.25 L403.57 674.29 L406.5 673.32 L409.46 672.35 L412.43 671.36 L415.44 670.37 L418.46 669.37 L421.51 668.37 L424.58 667.35 L427.67 666.33 L430.79 665.3 L433.93 664.26 L437.09 663.22 L440.28 662.17 L443.49 661.11 L446.72 660.05 L449.98 658.99 L453.26 657.91 L456.57 656.84 L459.9 655.75 L463.25 654.67 L466.63 653.58 L470.04 652.48 L473.46 651.38 L476.91 650.28 L480.39 649.17 L483.89 648.06 L487.41 646.94 L490.96 645.83 L494.53 644.71 L498.13 643.59 L501.75 642.46 L505.4 641.33 L509.07 640.2 L512.76 639.07 L516.48 637.94 L520.23 636.81 L524 635.67 L527.8 634.53 L531.62 633.4 L535.46 632.26 L539.33 631.12 L543.23 629.98 L547.15 628.84 L551.1 627.69 L555.07 626.55 L559.07 625.41 L563.09 624.27 L567.14 623.12 L571.21 621.98 L575.31 620.84 L579.44 619.7 L583.59 618.56 L587.77 617.42 L591.97 616.28 L596.2 615.14 L600.45 614 L604.73 612.86 L609.04 611.73 L613.37 610.59 L617.73 609.46 L622.12 608.33 L626.53 607.2 L630.97 606.07 L635.43 604.94 L639.92 603.81 L644.44 602.68 L648.98 601.56 L653.55 600.44 L658.15 599.32 L662.78 598.2 L667.43 597.08 L672.1 595.97 L676.81 594.85 L681.54 593.74 L686.3 592.63 L691.08 591.53 L695.89 590.42 L700.73 589.32 L705.6 588.22 L710.49 587.12 L715.42 586.02 L720.36 584.93 L725.34 583.83 L730.34 582.74 L735.37 581.66 L740.43 580.57 L745.52 579.49 L750.63 578.41 L755.77 577.33 L760.94 576.25 L766.14 575.18 L771.36 574.11 L776.61 573.04 L781.89 571.98 L787.2 570.91 L792.54 569.85 L797.9 568.79 L803.29 567.74 L808.71 566.68 L814.16 565.63 L819.64 564.59 L825.14 563.54 L830.68 562.5 L836.24 561.46 L841.83 560.42 L847.45 559.38 L853.09 558.35 L858.77 557.32 L864.47 556.29 L870.21 555.27 L875.97 554.24 L881.76 553.22 L887.58 552.21 L893.43 551.19 L899.31 550.18 L905.21 549.17 L911.15 548.16 L917.11 547.16 L923.11 546.16 L929.13 545.16 L935.18 544.16 L941.26 543.17 L947.37 542.18 L953.51 541.19 L959.68 540.2 L965.88 539.22 L972.11 538.24 L978.37 537.26 L984.65 536.28 L990.97 535.31 L997.32 534.34 L1003.69 533.37 L1010.1 532.41 L1016.53 531.44 L1023 530.48 L1029.5 529.52 L1036.02 528.57 L1042.58 527.62 L1049.16 526.66 L1055.78 525.72 L1062.43 524.77 L1069.1 523.83 L1075.81 522.89 L1082.54 521.95 L1089.31 521.01 L1096.11 520.08 L1102.94 519.15 L1109.8 518.22 L1116.68 517.3 L1123.6 516.37 L1130.55 515.45 L1137.53 514.53 L1144.54 513.62 L1151.59 512.7 L1158.66 511.79 L1165.76 510.88 L1172.9 509.97 L1180.06 509.07 L1187.26 508.17 L1194.49 507.27 L1201.74 506.37 L1209.03 505.48 L1216.35 504.58 L1223.71 503.69 L1231.09 502.8 L1238.5 501.92 L1245.95 501.04 L1253.43 500.15 L1260.93 499.28 L1268.47 498.4 L1276.04 497.52 L1283.65 496.65 L1291.28 495.78 L1298.95 494.91 L1306.64 494.05 L1314.37 493.18 L1322.13 492.32 L1329.93 491.46 L1337.75 490.61 L1345.61 489.75 L1353.5 488.9 L1361.42 488.05 L1369.37 487.2 L1377.35 486.36 L1385.37 485.51 L1393.42 484.67 L1401.5 483.83 L1409.61 482.99 L1417.76 482.16 L1425.93 481.32 L1434.14 480.49 L1442.39 479.66 L1450.66 478.84 L1458.97 478.01 L1467.31 477.19 L1475.68 476.37 L1484.08 475.55 L1492.52 474.73 L1500.99 473.91 L1509.5 473.1 L1518.03 472.29 L1526.6 471.48 L1535.2 470.67 L1543.83 469.87 L1552.5 469.06 L1561.2 468.26 L1569.93 467.46 L1578.7 466.67 L1587.5 465.87" fill="none" stroke="#008000" stroke-opacity="0.5" stroke-width="22.6" stroke-linejoin="round" stroke-linecap="butt"/>
<g fill="#0000ff"><circle cx="208.75" cy="706.9" r="9.4"/><circle cx="249.29" cy="626.25" r="9.4"/><circle cx="289.83" cy="515" r="9.4"/><circle cx="330.37" cy="465" r="9.4"/><circle cx="370.91" cy="421.25" r="9.4"/><circle cx="411.45" cy="393" r="9.4"/><circle cx="451.99" cy="367.5" r="9.4"/><circle cx="492.53" cy="342" r="9.4"/><circle cx="533.07" cy="326.75" r="9.4"/><circle cx="573.61" cy="305.5" r="9.4"/><circle cx="614.15" cy="285" r="9.4"/><circle cx="654.69" cy="276.25" r="9.4"/><circle cx="695.23" cy="265" r="9.4"/><circle cx="735.77" cy="255" r="9.4"/><circle cx="776.31" cy="243" r="9.4"/><circle cx="816.85" cy="230.5" r="9.4"/><circle cx="857.39" cy="220" r="9.4"/><circle cx="897.93" cy="211.75" r="9.4"/><circle cx="938.47" cy="204.25" r="9.4"/><circle cx="979.01" cy="197.5" r="9.4"/><circle cx="1019.55" cy="192.5" r="9.4"/><circle cx="1060.09" cy="188" r="9.4"/><circle cx="1100.63" cy="183.5" r="9.4"/><circle cx="1141.17" cy="178.75" r="9.4"/><circle cx="1181.71" cy="174.25" r="9.4"/><circle cx="1222.25" cy="169.5" r="9.4"/><circle cx="1262.79" cy="166.25" r="9.4"/><circle cx="1303.33" cy="163" r="9.4"/><circle cx="1343.87" cy="159.5" r="9.4"/><circle cx="1384.41" cy="156" r="9.4"/><circle cx="1424.95" cy="151.75" r="9.4"/><circle cx="1465.49" cy="147" r="9.4"/><circle cx="1506.03" cy="142.5" r="9.4"/><circle cx="1546.57" cy="140" r="9.4"/><circle cx="1587.11" cy="138.3" r="9.4"/></g>
<g fill="#ff0000"><circle cx="199.6" cy="789.5" r="9.4"/><circle cx="240.6" cy="626.25" r="9.4"/><circle cx="281.6" cy="550.5" r="9.4"/><circle cx="322.6" cy="510" r="9.4"/><circle cx="363.6" cy="467.5" r="9.4"/><circle cx="404.6" cy="432.75" r="9.4"/><circle cx="445.6" cy="404" r="9.4"/><circle cx="486.6" cy="381.25" r="9.4"/><circle cx="527.6" cy="357" r="9.4"/><circle cx="568.6" cy="335.5" r="9.4"/><circle cx="609.6" cy="315" r="9.4"/><circle cx="650.6" cy="301.25" r="9.4"/><circle cx="691.6" cy="287.5" r="9.4"/><circle cx="732.6" cy="278.25" r="9.4"/><circle cx="773.6" cy="264.25" r="9.4"/><circle cx="814.6" cy="249.5" r="9.4"/><circle cx="855.6" cy="236.25" r="9.4"/><circle cx="896.6" cy="225.75" r="9.4"/><circle cx="937.6" cy="217" r="9.4"/><circle cx="978.6" cy="208.75" r="9.4"/><circle cx="1019.6" cy="201.75" r="9.4"/><circle cx="1060.6" cy="193.75" r="9.4"/><circle cx="1101.6" cy="185.75" r="9.4"/><circle cx="1142.6" cy="180" r="9.4"/><circle cx="1183.6" cy="171.25" r="9.4"/><circle cx="1224.6" cy="162.5" r="9.4"/><circle cx="1265.6" cy="156.75" r="9.4"/><circle cx="1306.6" cy="151.25" r="9.4"/><circle cx="1347.6" cy="145" r="9.4"/><circle cx="1388.6" cy="139" r="9.4"/><circle cx="1429.6" cy="132.5" r="9.4"/><circle cx="1470.6" cy="126.5" r="9.4"/><circle cx="1511.6" cy="121.6" r="9.4"/><circle cx="1552.6" cy="116.2" r="9.4"/><circle cx="1593.6" cy="110.3" r="9.4"/></g>
<g fill="#008000"><circle cx="212.5" cy="697.5" r="9.4"/><circle cx="252.04" cy="690" r="9.4"/><circle cx="291.58" cy="675" r="9.4"/><circle cx="331.12" cy="655" r="9.4"/><circle cx="370.66" cy="690" r="9.4"/><circle cx="410.2" cy="626.25" r="9.4"/><circle cx="449.74" cy="690" r="9.4"/><circle cx="489.28" cy="655" r="9.4"/><circle cx="528.82" cy="641.25" r="9.4"/><circle cx="568.36" cy="655" r="9.4"/><circle cx="607.9" cy="608" r="9.4"/><circle cx="647.44" cy="590" r="9.4"/><circle cx="686.98" cy="608" r="9.4"/><circle cx="726.52" cy="608" r="9.4"/><circle cx="766.06" cy="608" r="9.4"/><circle cx="805.6" cy="572.5" r="9.4"/><circle cx="845.14" cy="547.5" r="9.4"/><circle cx="884.68" cy="572.5" r="9.4"/><circle cx="924.22" cy="545" r="9.4"/><circle cx="963.76" cy="540.6" r="9.4"/><circle cx="1003.3" cy="535.5" r="9.4"/><circle cx="1042.84" cy="514.4" r="9.4"/><circle cx="1082.38" cy="531.4" r="9.4"/><circle cx="1121.92" cy="510.3" r="9.4"/><circle cx="1161.46" cy="509.25" r="9.4"/><circle cx="1201" cy="505" r="9.4"/><circle cx="1240.54" cy="498.75" r="9.4"/><circle cx="1280.08" cy="496.25" r="9.4"/><circle cx="1319.62" cy="495" r="9.4"/><circle cx="1359.16" cy="488.75" r="9.4"/><circle cx="1398.7" cy="487.5" r="9.4"/><circle cx="1438.24" cy="484.25" r="9.4"/><circle cx="1477.78" cy="480" r="9.4"/><circle cx="1517.32" cy="467.5" r="9.4"/><circle cx="1556.86" cy="466.25" r="9.4"/></g>
</g>
<g clip-path="url(#cb)" shape-rendering="crispEdges">
<path fill="#0000ff" d="M276.15 1212.75H315.35V1220.25H276.15ZM315.46 1126.75H354.66V1134.25H315.46ZM354.77 1073.75H393.97V1081.25H354.77ZM394.08 1032H433.28V1039.5H394.08ZM433.39 995H472.59V1002.5H433.39ZM472.7 971.25H511.9V978.75H472.7ZM512.01 948.75H551.21V956.25H512.01ZM551.32 930.25H590.52V937.75H551.32ZM590.63 915.5H629.83V923H590.63ZM629.94 901.75H669.14V909.25H629.94ZM669.25 895H708.45V902.5H669.25ZM708.56 888.25H747.76V895.75H708.56ZM747.87 882.5H787.07V890H747.87ZM787.18 875H826.38V882.5H787.18ZM826.49 869.25H865.69V876.75H826.49ZM865.8 866.25H905V873.75H865.8ZM905.11 863.25H944.31V870.75H905.11ZM944.42 860H983.62V867.5H944.42ZM983.73 858.25H1022.93V865.75H983.73ZM1023.04 856.25H1062.24V863.75H1023.04ZM1062.35 854.25H1101.55V861.75H1062.35ZM1101.66 852.5H1140.86V860H1101.66ZM1140.97 851.25H1180.17V858.75H1140.97ZM1180.28 850.75H1219.48V858.25H1180.28ZM1219.59 849.75H1258.79V857.25H1219.59ZM1258.9 849.25H1298.1V856.75H1258.9ZM1298.21 848.75H1337.41V856.25H1298.21ZM1337.52 848.25H1376.72V855.75H1337.52ZM1376.83 847.5H1416.03V855H1376.83ZM1416.14 847H1455.34V854.5H1416.14ZM1455.45 846.75H1494.65V854.25H1455.45ZM1494.76 846.25H1533.96V853.75H1494.76ZM1534.07 846.25H1573.27V853.75H1534.07ZM1573.38 845.75H1612.58V853.25H1573.38ZM292 1210.5H299.5V1222.5H292ZM331.31 1125.05H338.81V1135.95H331.31ZM370.62 1072.6H378.12V1082.4H370.62ZM409.93 1031.4H417.43V1040.1H409.93ZM449.24 994.95H456.74V1002.55H449.24ZM488.55 971.75H496.05V978.25H488.55ZM527.86 949.8H535.36V955.2H527.86ZM567.17 931.85H574.67V936.15H567.17ZM606.48 917.65H613.98V920.85H606.48ZM645.79 904.45H653.29V906.55H645.79ZM685.1 898.25H692.6V899.25H685.1Z"/>
<path fill="#ff0000" d="M177.3 1330H211.7V1337.5H177.3ZM212.18 1239.25H246.58V1246.75H212.18ZM247.06 1179.25H281.46V1186.75H247.06ZM281.94 1135.75H316.34V1143.25H281.94ZM316.82 1094.25H351.22V1101.75H316.82ZM351.7 1057H386.1V1064.5H351.7ZM386.58 1031.25H420.98V1038.75H386.58ZM421.46 1016.25H455.86V1023.75H421.46ZM456.34 992.5H490.74V1000H456.34ZM491.22 972.5H525.62V980H491.22ZM526.1 960.25H560.5V967.75H526.1ZM560.98 951.75H595.38V959.25H560.98ZM595.86 937.5H630.26V945H595.86ZM630.74 923.75H665.14V931.25H630.74ZM665.62 917.5H700.02V925H665.62ZM700.5 909.25H734.9V916.75H700.5ZM735.38 902.5H769.78V910H735.38ZM770.26 898.75H804.66V906.25H770.26ZM805.14 895H839.54V902.5H805.14ZM840.02 888.25H874.42V895.75H840.02ZM874.9 882.5H909.3V890H874.9ZM909.78 875.75H944.18V883.25H909.78ZM944.66 871.75H979.06V879.25H944.66ZM979.54 870H1013.94V877.5H979.54ZM1014.42 867H1048.82V874.5H1014.42ZM1049.3 863.75H1083.7V871.25H1049.3ZM1084.18 860.75H1118.58V868.25H1084.18ZM1119.06 859.25H1153.46V866.75H1119.06ZM1153.94 857H1188.34V864.5H1153.94ZM1188.82 855H1223.22V862.5H1188.82ZM1223.7 853.75H1258.1V861.25H1223.7ZM1258.58 852H1292.98V859.5H1258.58ZM1293.46 851.25H1327.86V858.75H1293.46ZM1328.34 850.75H1362.74V858.25H1328.34ZM1363.22 850H1397.62V857.5H1363.22ZM190.75 1327.45H198.25V1340.05H190.75ZM225.63 1237.15H233.13V1248.85H225.63ZM260.51 1177.6H268.01V1188.4H260.51ZM295.39 1134.55H302.89V1144.45H295.39ZM330.27 1093.5H337.77V1102.5H330.27ZM365.15 1056.7H372.65V1064.8H365.15ZM400.03 1031.4H407.53V1038.6H400.03ZM434.91 1016.85H442.41V1023.15H434.91ZM469.79 993.55H477.29V998.95H469.79ZM504.67 974H512.17V978.5H504.67ZM539.55 962.2H547.05V965.8H539.55ZM574.43 954.15H581.93V956.85H574.43ZM609.31 940.35H616.81V942.15H609.31ZM644.19 927.05H651.69V927.95H644.19Z"/>
<path fill="#008000" d="M273.8 1506.25H311.2V1513.75H273.8ZM311.65 1462.5H349.05V1470H311.65ZM349.5 1400.75H386.9V1408.25H349.5ZM387.35 1365.75H424.75V1373.25H387.35ZM425.2 1343.25H462.6V1350.75H425.2ZM463.05 1295.75H500.45V1303.25H463.05ZM500.9 1281H538.3V1288.5H500.9ZM538.75 1258.75H576.15V1266.25H538.75ZM576.6 1245H614V1252.5H576.6ZM614.45 1218.25H651.85V1225.75H614.45ZM652.3 1198.75H689.7V1206.25H652.3ZM690.15 1183.75H727.55V1191.25H690.15ZM728 1175.75H765.4V1183.25H728ZM765.85 1153.25H803.25V1160.75H765.85ZM803.7 1142.5H841.1V1150H803.7ZM841.55 1125.75H878.95V1133.25H841.55ZM879.4 1123.25H916.8V1130.75H879.4ZM917.25 1106.25H954.65V1113.75H917.25ZM955.1 1107.5H992.5V1115H955.1ZM992.95 1101.25H1030.35V1108.75H992.95ZM1030.8 1098.25H1068.2V1105.75H1030.8ZM1068.65 1088.75H1106.05V1096.25H1068.65ZM1106.5 1077.5H1143.9V1085H1106.5ZM1144.35 1071.25H1181.75V1078.75H1144.35ZM1182.2 1065H1219.6V1072.5H1182.2ZM1220.05 1057H1257.45V1064.5H1220.05ZM1257.9 1053.75H1295.3V1061.25H1257.9ZM1295.75 1043.75H1333.15V1051.25H1295.75ZM1333.6 1037.5H1371V1045H1333.6ZM1371.45 1031.25H1408.85V1038.75H1371.45ZM1409.3 1027.5H1446.7V1035H1409.3ZM1447.15 1023.75H1484.55V1031.25H1447.15ZM1485 1020H1522.4V1027.5H1485ZM1522.85 1012.5H1560.25V1020H1522.85ZM1560.7 1008.75H1598.1V1016.25H1560.7ZM288.75 1499.5H296.25V1520.5H288.75ZM326.6 1449.75H334.1V1482.75H326.6ZM364.45 1392H371.95V1417H364.45ZM402.3 1359H409.8V1380H402.3ZM440.15 1332H447.65V1362H440.15ZM478 1284.5H485.5V1314.5H478ZM515.85 1276.75H523.35V1292.75H515.85ZM553.7 1250.5H561.2V1274.5H553.7ZM591.55 1235.75H599.05V1261.75H591.55ZM629.4 1214H636.9V1230H629.4ZM667.25 1191H674.75V1214H667.25ZM705.1 1175.5H712.6V1199.5H705.1ZM742.95 1171H750.45V1188H742.95ZM780.8 1150H788.3V1164H780.8ZM818.65 1139.25H826.15V1153.25H818.65ZM856.5 1122.5H864V1136.5H856.5ZM894.35 1120H901.85V1134H894.35ZM932.2 1102H939.7V1118H932.2ZM970.05 1103.25H977.55V1119.25H970.05ZM1007.9 1098H1015.4V1112H1007.9ZM1045.75 1093H1053.25V1111H1045.75ZM1083.6 1086.5H1091.1V1098.5H1083.6ZM1121.45 1073.25H1128.95V1089.25H1121.45ZM1159.3 1068H1166.8V1082H1159.3ZM1197.15 1061.75H1204.65V1075.75H1197.15ZM1235 1054.75H1242.5V1066.75H1235ZM1272.85 1053.5H1280.35V1061.5H1272.85ZM1310.7 1041.5H1318.2V1053.5H1310.7ZM1348.55 1037.25H1356.05V1045.25H1348.55ZM1386.4 1029H1393.9V1041H1386.4ZM1424.25 1027.25H1431.75V1035.25H1424.25ZM1462.1 1023.5H1469.6V1031.5H1462.1ZM1499.95 1017.75H1507.45V1029.75H1499.95ZM1537.8 1010.25H1545.3V1022.25H1537.8ZM1575.65 1009.5H1583.15V1015.5H1575.65Z"/>
<path fill="#0000ff" d="M273.4 1207H278.9V1226H273.4ZM312.6 1207H318.1V1226H312.6ZM286.25 1207.75H305.25V1213.25H286.25ZM286.25 1219.75H305.25V1225.25H286.25ZM312.71 1121H318.21V1140H312.71ZM351.91 1121H357.41V1140H351.91ZM325.56 1122.3H344.56V1127.8H325.56ZM325.56 1133.2H344.56V1138.7H325.56ZM352.02 1068H357.52V1087H352.02ZM391.22 1068H396.72V1087H391.22ZM364.87 1069.85H383.87V1075.35H364.87ZM364.87 1079.65H383.87V1085.15H364.87ZM391.33 1026.25H396.83V1045.25H391.33ZM430.53 1026.25H436.03V1045.25H430.53ZM404.18 1028.65H423.18V1034.15H404.18ZM404.18 1037.35H423.18V1042.85H404.18ZM430.64 989.25H436.14V1008.25H430.64ZM469.84 989.25H475.34V1008.25H469.84ZM443.49 992.2H462.49V997.7H443.49ZM443.49 999.8H462.49V1005.3H443.49ZM469.95 965.5H475.45V984.5H469.95ZM509.15 965.5H514.65V984.5H509.15ZM482.8 969H501.8V974.5H482.8ZM482.8 975.5H501.8V981H482.8ZM509.26 943H514.76V962H509.26ZM548.46 943H553.96V962H548.46ZM522.11 947.05H541.11V952.55H522.11ZM522.11 952.45H541.11V957.95H522.11ZM548.57 924.5H554.07V943.5H548.57ZM587.77 924.5H593.27V943.5H587.77ZM561.42 929.1H580.42V934.6H561.42ZM561.42 933.4H580.42V938.9H561.42ZM587.88 909.75H593.38V928.75H587.88ZM627.08 909.75H632.58V928.75H627.08ZM600.73 914.9H619.73V920.4H600.73ZM600.73 918.1H619.73V923.6H600.73ZM627.19 896H632.69V915H627.19ZM666.39 896H671.89V915H666.39ZM640.04 901.7H659.04V907.2H640.04ZM640.04 903.8H659.04V909.3H640.04ZM666.5 889.25H672V908.25H666.5ZM705.7 889.25H711.2V908.25H705.7ZM679.35 895.5H698.35V901H679.35ZM679.35 896.5H698.35V902H679.35ZM705.81 882.5H711.31V901.5H705.81ZM745.01 882.5H750.51V901.5H745.01ZM718.66 889.25H737.66V894.75H718.66ZM718.66 889.25H737.66V894.75H718.66ZM745.12 876.75H750.62V895.75H745.12ZM784.32 876.75H789.82V895.75H784.32ZM757.97 883.5H776.97V889H757.97ZM757.97 883.5H776.97V889H757.97ZM784.43 869.25H789.93V888.25H784.43ZM823.63 869.25H829.13V888.25H823.63ZM797.28 876H816.28V881.5H797.28ZM797.28 876H816.28V881.5H797.28ZM823.74 863.5H829.24V882.5H823.74ZM862.94 863.5H868.44V882.5H862.94ZM836.59 870.25H855.59V875.75H836.59ZM836.59 870.25H855.59V875.75H836.59ZM863.05 860.5H868.55V879.5H863.05ZM902.25 860.5H907.75V879.5H902.25ZM875.9 867.25H894.9V872.75H875.9ZM875.9 867.25H894.9V872.75H875.9ZM902.36 857.5H907.86V876.5H902.36ZM941.56 857.5H947.06V876.5H941.56ZM915.21 864.25H934.21V869.75H915.21ZM915.21 864.25H934.21V869.75H915.21ZM941.67 854.25H947.17V873.25H941.67ZM980.87 854.25H986.37V873.25H980.87ZM954.52 861H973.52V866.5H954.52ZM954.52 861H973.52V866.5H954.52ZM980.98 852.5H986.48V871.5H980.98ZM1020.18 852.5H1025.68V871.5H1020.18ZM993.83 859.25H1012.83V864.75H993.83ZM993.83 859.25H1012.83V864.75H993.83ZM1020.29 850.5H1025.79V869.5H1020.29ZM1059.49 850.5H1064.99V869.5H1059.49ZM1033.14 857.25H1052.14V862.75H1033.14ZM1033.14 857.25H1052.14V862.75H1033.14ZM1059.6 848.5H1065.1V867.5H1059.6ZM1098.8 848.5H1104.3V867.5H1098.8ZM1072.45 855.25H1091.45V860.75H1072.45ZM1072.45 855.25H1091.45V860.75H1072.45ZM1098.91 846.75H1104.41V865.75H1098.91ZM1138.11 846.75H1143.61V865.75H1138.11ZM1111.76 853.5H1130.76V859H1111.76ZM1111.76 853.5H1130.76V859H1111.76ZM1138.22 845.5H1143.72V864.5H1138.22ZM1177.42 845.5H1182.92V864.5H1177.42ZM1151.07 852.25H1170.07V857.75H1151.07ZM1151.07 852.25H1170.07V857.75H1151.07ZM1177.53 845H1183.03V864H1177.53ZM1216.73 845H1222.23V864H1216.73ZM1190.38 851.75H1209.38V857.25H1190.38ZM1190.38 851.75H1209.38V857.25H1190.38ZM1216.84 844H1222.34V863H1216.84ZM1256.04 844H1261.54V863H1256.04ZM1229.69 850.75H1248.69V856.25H1229.69ZM1229.69 850.75H1248.69V856.25H1229.69ZM1256.15 843.5H1261.65V862.5H1256.15ZM1295.35 843.5H1300.85V862.5H1295.35ZM1269 850.25H1288V855.75H1269ZM1269 850.25H1288V855.75H1269ZM1295.46 843H1300.96V862H1295.46ZM1334.66 843H1340.16V862H1334.66ZM1308.31 849.75H1327.31V855.25H1308.31ZM1308.31 849.75H1327.31V855.25H1308.31ZM1334.77 842.5H1340.27V861.5H1334.77ZM1373.97 842.5H1379.47V861.5H1373.97ZM1347.62 849.25H1366.62V854.75H1347.62ZM1347.62 849.25H1366.62V854.75H1347.62ZM1374.08 841.75H1379.58V860.75H1374.08ZM1413.28 841.75H1418.78V860.75H1413.28ZM1386.93 848.5H1405.93V854H1386.93ZM1386.93 848.5H1405.93V854H1386.93ZM1413.39 841.25H1418.89V860.25H1413.39ZM1452.59 841.25H1458.09V860.25H1452.59ZM1426.24 848H1445.24V853.5H1426.24ZM1426.24 848H1445.24V853.5H1426.24ZM1452.7 841H1458.2V860H1452.7ZM1491.9 841H1497.4V860H1491.9ZM1465.55 847.75H1484.55V853.25H1465.55ZM1465.55 847.75H1484.55V853.25H1465.55ZM1492.01 840.5H1497.51V859.5H1492.01ZM1531.21 840.5H1536.71V859.5H1531.21ZM1504.86 847.25H1523.86V852.75H1504.86ZM1504.86 847.25H1523.86V852.75H1504.86ZM1531.32 840.5H1536.82V859.5H1531.32ZM1570.52 840.5H1576.02V859.5H1570.52ZM1544.17 847.25H1563.17V852.75H1544.17ZM1544.17 847.25H1563.17V852.75H1544.17ZM1570.63 840H1576.13V859H1570.63ZM1609.83 840H1615.33V859H1609.83ZM1583.48 846.75H1602.48V852.25H1583.48ZM1583.48 846.75H1602.48V852.25H1583.48Z"/>
<path d="M301 1221.03 L301 1221.03 L301 1221.03 L301 1221.03 L301 1221.02 L301.01 1221.01 L301.01 1220.99 L301.01 1220.97 L301.02 1220.95 L301.02 1220.92 L301.03 1220.89 L301.04 1220.85 L301.05 1220.8 L301.06 1220.75 L301.07 1220.69 L301.08 1220.63 L301.1 1220.56 L301.11 1220.48 L301.13 1220.39 L301.15 1220.3 L301.17 1220.2 L301.19 1220.09 L301.22 1219.98 L301.24 1219.85 L301.27 1219.72 L301.3 1219.58 L301.33 1219.44 L301.36 1219.28 L301.39 1219.11 L301.43 1218.94 L301.47 1218.76 L301.51 1218.57 L301.55 1218.37 L301.59 1218.16 L301.64 1217.94 L301.69 1217.71 L301.74 1217.48 L301.79 1217.23 L301.84 1216.97 L301.9 1216.71 L301.96 1216.44 L302.02 1216.15 L302.08 1215.86 L302.15 1215.56 L302.22 1215.25 L302.29 1214.92 L302.36 1214.59 L302.44 1214.25 L302.51 1213.9 L302.59 1213.54 L302.68 1213.18 L302.76 1212.8 L302.85 1212.41 L302.94 1212.02 L303.03 1211.61 L303.13 1211.2 L303.22 1210.77 L303.33 1210.34 L303.43 1209.9 L303.54 1209.45 L303.64 1208.99 L303.76 1208.52 L303.87 1208.04 L303.99 1207.56 L304.11 1207.06 L304.23 1206.56 L304.36 1206.05 L304.48 1205.53 L304.62 1205 L304.75 1204.47 L304.89 1203.92 L305.03 1203.37 L305.17 1202.81 L305.32 1202.24 L305.47 1201.67 L305.62 1201.09 L305.77 1200.5 L305.93 1199.9 L306.09 1199.3 L306.26 1198.69 L306.43 1198.07 L306.6 1197.44 L306.77 1196.81 L306.95 1196.18 L307.13 1195.53 L307.32 1194.88 L307.5 1194.22 L307.69 1193.56 L307.89 1192.89 L308.08 1192.22 L308.29 1191.54 L308.49 1190.85 L308.7 1190.16 L308.91 1189.46 L309.12 1188.76 L309.34 1188.05 L309.56 1187.33 L309.79 1186.62 L310.01 1185.89 L310.25 1185.16 L310.48 1184.43 L310.72 1183.69 L310.96 1182.95 L311.21 1182.2 L311.46 1181.45 L311.71 1180.7 L311.97 1179.94 L312.23 1179.18 L312.49 1178.41 L312.76 1177.64 L313.03 1176.86 L313.31 1176.08 L313.59 1175.3 L313.87 1174.52 L314.16 1173.73 L314.45 1172.93 L314.74 1172.14 L315.04 1171.34 L315.34 1170.54 L315.65 1169.73 L315.96 1168.92 L316.27 1168.11 L316.59 1167.3 L316.91 1166.48 L317.23 1165.66 L317.56 1164.84 L317.9 1164.01 L318.23 1163.19 L318.57 1162.36 L318.92 1161.53 L319.27 1160.69 L319.62 1159.85 L319.98 1159.02 L320.34 1158.17 L320.71 1157.33 L321.08 1156.49 L321.45 1155.64 L321.83 1154.79 L322.21 1153.94 L322.6 1153.09 L322.99 1152.23 L323.38 1151.38 L323.78 1150.52 L324.18 1149.66 L324.59 1148.8 L325 1147.94 L325.42 1147.07 L325.84 1146.21 L326.26 1145.34 L326.69 1144.47 L327.13 1143.6 L327.56 1142.73 L328.01 1141.86 L328.45 1140.98 L328.9 1140.11 L329.36 1139.23 L329.82 1138.35 L330.28 1137.47 L330.75 1136.59 L331.22 1135.71 L331.7 1134.83 L332.18 1133.95 L332.67 1133.06 L333.16 1132.18 L333.66 1131.29 L334.16 1130.41 L334.66 1129.52 L335.17 1128.63 L335.68 1127.74 L336.2 1126.85 L336.73 1125.96 L337.25 1125.07 L337.79 1124.18 L338.32 1123.28 L338.86 1122.39 L339.41 1121.49 L339.96 1120.6 L340.52 1119.7 L341.08 1118.8 L341.64 1117.91 L342.21 1117.01 L342.79 1116.11 L343.37 1115.21 L343.95 1114.31 L344.54 1113.41 L345.14 1112.51 L345.73 1111.61 L346.34 1110.71 L346.95 1109.8 L347.56 1108.9 L348.18 1108 L348.8 1107.09 L349.43 1106.19 L350.06 1105.28 L350.7 1104.38 L351.34 1103.47 L351.99 1102.56 L352.64 1101.66 L353.3 1100.75 L353.96 1099.84 L354.63 1098.94 L355.31 1098.03 L355.98 1097.12 L356.67 1096.21 L357.35 1095.3 L358.05 1094.39 L358.75 1093.48 L359.45 1092.57 L360.16 1091.66 L360.87 1090.75 L361.59 1089.84 L362.31 1088.93 L363.04 1088.02 L363.78 1087.1 L364.52 1086.19 L365.26 1085.28 L366.01 1084.37 L366.77 1083.46 L367.53 1082.54 L368.29 1081.63 L369.06 1080.72 L369.84 1079.8 L370.62 1078.89 L371.41 1077.98 L372.2 1077.06 L373 1076.15 L373.8 1075.23 L374.61 1074.32 L375.42 1073.4 L376.24 1072.49 L377.06 1071.58 L377.89 1070.66 L378.73 1069.75 L379.57 1068.83 L380.41 1067.92 L381.26 1067 L382.12 1066.09 L382.98 1065.17 L383.85 1064.25 L384.72 1063.34 L385.6 1062.42 L386.49 1061.51 L387.38 1060.59 L388.27 1059.68 L389.17 1058.76 L390.08 1057.85 L390.99 1056.93 L391.91 1056.01 L392.83 1055.1 L393.76 1054.18 L394.69 1053.27 L395.63 1052.35 L396.58 1051.44 L397.53 1050.52 L398.49 1049.6 L399.45 1048.69 L400.42 1047.77 L401.39 1046.86 L402.37 1045.94 L403.35 1045.03 L404.34 1044.11 L405.34 1043.2 L406.34 1042.28 L407.35 1041.37 L408.37 1040.45 L409.39 1039.54 L410.41 1038.62 L411.44 1037.71 L412.48 1036.8 L413.52 1035.88 L414.57 1034.97 L415.62 1034.05 L416.69 1033.14 L417.75 1032.23 L418.82 1031.31 L419.9 1030.4 L420.99 1029.49 L422.08 1028.57 L423.17 1027.66 L424.27 1026.75 L425.38 1025.84 L426.49 1024.92 L427.61 1024.01 L428.74 1023.1 L429.87 1022.19 L431.01 1021.28 L432.15 1020.37 L433.3 1019.46 L434.46 1018.54 L435.62 1017.63 L436.78 1016.72 L437.96 1015.81 L439.14 1014.91 L440.32 1014 L441.52 1013.09 L442.71 1012.18 L443.92 1011.27 L445.13 1010.36 L446.34 1009.45 L447.57 1008.55 L448.79 1007.64 L450.03 1006.73 L451.27 1005.83 L452.52 1004.92 L453.77 1004.01 L455.03 1003.11 L456.3 1002.2 L457.57 1001.3 L458.85 1000.39 L460.13 999.49 L461.42 998.59 L462.72 997.68 L464.02 996.78 L465.33 995.88 L466.65 994.98 L467.97 994.07 L469.3 993.17 L470.63 992.27 L471.97 991.37 L473.32 990.47 L474.67 989.57 L476.03 988.67 L477.4 987.77 L478.77 986.87 L480.15 985.98 L481.54 985.08 L482.93 984.18 L484.33 983.28 L485.73 982.39 L487.14 981.49 L488.56 980.6 L489.98 979.7 L491.41 978.81 L492.85 977.91 L494.3 977.02 L495.75 976.13 L497.2 975.24 L498.67 974.34 L500.13 973.45 L501.61 972.56 L503.09 971.67 L504.58 970.78 L506.08 969.89 L507.58 969 L509.09 968.12 L510.61 967.23 L512.13 966.34 L513.66 965.46 L515.19 964.57 L516.73 963.68 L518.28 962.8 L519.84 961.91 L521.4 961.03 L522.97 960.15 L524.54 959.27 L526.13 958.38 L527.71 957.5 L529.31 956.62 L530.91 955.74 L532.52 954.86 L534.14 953.98 L535.76 953.1 L537.39 952.23 L539.02 951.35 L540.67 950.47 L542.32 949.6 L543.97 948.72 L545.64 947.85 L547.31 946.97 L548.98 946.1 L550.67 945.23 L552.36 944.35 L554.05 943.48 L555.76 942.61 L557.47 941.74 L559.19 940.87 L560.91 940 L562.64 939.13 L564.38 938.27 L566.13 937.4 L567.88 936.53 L569.64 935.67 L571.4 934.8 L573.18 933.94 L574.96 933.08 L576.74 932.21 L578.54 931.35 L580.34 930.49 L582.15 929.63 L583.96 928.77 L585.78 927.91 L587.61 927.05 L589.45 926.19 L591.29 925.34 L593.14 924.48 L595 923.62 L596.86 922.77 L598.74 921.91 L600.61 921.06 L602.5 920.21" fill="none" stroke="#0000ff" stroke-opacity="0.5" stroke-width="22.6" stroke-linejoin="round" stroke-linecap="butt"/>
<path fill="#ff0000" d="M174.55 1324.25H180.05V1343.25H174.55ZM208.95 1324.25H214.45V1343.25H208.95ZM185 1324.7H204V1330.2H185ZM185 1337.3H204V1342.8H185ZM209.43 1233.5H214.93V1252.5H209.43ZM243.83 1233.5H249.33V1252.5H243.83ZM219.88 1234.4H238.88V1239.9H219.88ZM219.88 1246.1H238.88V1251.6H219.88ZM244.31 1173.5H249.81V1192.5H244.31ZM278.71 1173.5H284.21V1192.5H278.71ZM254.76 1174.85H273.76V1180.35H254.76ZM254.76 1185.65H273.76V1191.15H254.76ZM279.19 1130H284.69V1149H279.19ZM313.59 1130H319.09V1149H313.59ZM289.64 1131.8H308.64V1137.3H289.64ZM289.64 1141.7H308.64V1147.2H289.64ZM314.07 1088.5H319.57V1107.5H314.07ZM348.47 1088.5H353.97V1107.5H348.47ZM324.52 1090.75H343.52V1096.25H324.52ZM324.52 1099.75H343.52V1105.25H324.52ZM348.95 1051.25H354.45V1070.25H348.95ZM383.35 1051.25H388.85V1070.25H383.35ZM359.4 1053.95H378.4V1059.45H359.4ZM359.4 1062.05H378.4V1067.55H359.4ZM383.83 1025.5H389.33V1044.5H383.83ZM418.23 1025.5H423.73V1044.5H418.23ZM394.28 1028.65H413.28V1034.15H394.28ZM394.28 1035.85H413.28V1041.35H394.28ZM418.71 1010.5H424.21V1029.5H418.71ZM453.11 1010.5H458.61V1029.5H453.11ZM429.16 1014.1H448.16V1019.6H429.16ZM429.16 1020.4H448.16V1025.9H429.16ZM453.59 986.75H459.09V1005.75H453.59ZM487.99 986.75H493.49V1005.75H487.99ZM464.04 990.8H483.04V996.3H464.04ZM464.04 996.2H483.04V1001.7H464.04ZM488.47 966.75H493.97V985.75H488.47ZM522.87 966.75H528.37V985.75H522.87ZM498.92 971.25H517.92V976.75H498.92ZM498.92 975.75H517.92V981.25H498.92ZM523.35 954.5H528.85V973.5H523.35ZM557.75 954.5H563.25V973.5H557.75ZM533.8 959.45H552.8V964.95H533.8ZM533.8 963.05H552.8V968.55H533.8ZM558.23 946H563.73V965H558.23ZM592.63 946H598.13V965H592.63ZM568.68 951.4H587.68V956.9H568.68ZM568.68 954.1H587.68V959.6H568.68ZM593.11 931.75H598.61V950.75H593.11ZM627.51 931.75H633.01V950.75H627.51ZM603.56 937.6H622.56V943.1H603.56ZM603.56 939.4H622.56V944.9H603.56ZM627.99 918H633.49V937H627.99ZM662.39 918H667.89V937H662.39ZM638.44 924.3H657.44V929.8H638.44ZM638.44 925.2H657.44V930.7H638.44ZM662.87 911.75H668.37V930.75H662.87ZM697.27 911.75H702.77V930.75H697.27ZM673.32 918.5H692.32V924H673.32ZM673.32 918.5H692.32V924H673.32ZM697.75 903.5H703.25V922.5H697.75ZM732.15 903.5H737.65V922.5H732.15ZM708.2 910.25H727.2V915.75H708.2ZM708.2 910.25H727.2V915.75H708.2ZM732.63 896.75H738.13V915.75H732.63ZM767.03 896.75H772.53V915.75H767.03ZM743.08 903.5H762.08V909H743.08ZM743.08 903.5H762.08V909H743.08ZM767.51 893H773.01V912H767.51ZM801.91 893H807.41V912H801.91ZM777.96 899.75H796.96V905.25H777.96ZM777.96 899.75H796.96V905.25H777.96ZM802.39 889.25H807.89V908.25H802.39ZM836.79 889.25H842.29V908.25H836.79ZM812.84 896H831.84V901.5H812.84ZM812.84 896H831.84V901.5H812.84ZM837.27 882.5H842.77V901.5H837.27ZM871.67 882.5H877.17V901.5H871.67ZM847.72 889.25H866.72V894.75H847.72ZM847.72 889.25H866.72V894.75H847.72ZM872.15 876.75H877.65V895.75H872.15ZM906.55 876.75H912.05V895.75H906.55ZM882.6 883.5H901.6V889H882.6ZM882.6 883.5H901.6V889H882.6ZM907.03 870H912.53V889H907.03ZM941.43 870H946.93V889H941.43ZM917.48 876.75H936.48V882.25H917.48ZM917.48 876.75H936.48V882.25H917.48ZM941.91 866H947.41V885H941.91ZM976.31 866H981.81V885H976.31ZM952.36 872.75H971.36V878.25H952.36ZM952.36 872.75H971.36V878.25H952.36ZM976.79 864.25H982.29V883.25H976.79ZM1011.19 864.25H1016.69V883.25H1011.19ZM987.24 871H1006.24V876.5H987.24ZM987.24 871H1006.24V876.5H987.24ZM1011.67 861.25H1017.17V880.25H1011.67ZM1046.07 861.25H1051.57V880.25H1046.07ZM1022.12 868H1041.12V873.5H1022.12ZM1022.12 868H1041.12V873.5H1022.12ZM1046.55 858H1052.05V877H1046.55ZM1080.95 858H1086.45V877H1080.95ZM1057 864.75H1076V870.25H1057ZM1057 864.75H1076V870.25H1057ZM1081.43 855H1086.93V874H1081.43ZM1115.83 855H1121.33V874H1115.83ZM1091.88 861.75H1110.88V867.25H1091.88ZM1091.88 861.75H1110.88V867.25H1091.88ZM1116.31 853.5H1121.81V872.5H1116.31ZM1150.71 853.5H1156.21V872.5H1150.71ZM1126.76 860.25H1145.76V865.75H1126.76ZM1126.76 860.25H1145.76V865.75H1126.76ZM1151.19 851.25H1156.69V870.25H1151.19ZM1185.59 851.25H1191.09V870.25H1185.59ZM1161.64 858H1180.64V863.5H1161.64ZM1161.64 858H1180.64V863.5H1161.64ZM1186.07 849.25H1191.57V868.25H1186.07ZM1220.47 849.25H1225.97V868.25H1220.47ZM1196.52 856H1215.52V861.5H1196.52ZM1196.52 856H1215.52V861.5H1196.52ZM1220.95 848H1226.45V867H1220.95ZM1255.35 848H1260.85V867H1255.35ZM1231.4 854.75H1250.4V860.25H1231.4ZM1231.4 854.75H1250.4V860.25H1231.4ZM1255.83 846.25H1261.33V865.25H1255.83ZM1290.23 846.25H1295.73V865.25H1290.23ZM1266.28 853H1285.28V858.5H1266.28ZM1266.28 853H1285.28V858.5H1266.28ZM1290.71 845.5H1296.21V864.5H1290.71ZM1325.11 845.5H1330.61V864.5H1325.11ZM1301.16 852.25H1320.16V857.75H1301.16ZM1301.16 852.25H1320.16V857.75H1301.16ZM1325.59 845H1331.09V864H1325.59ZM1359.99 845H1365.49V864H1359.99ZM1336.04 851.75H1355.04V857.25H1336.04ZM1336.04 851.75H1355.04V857.25H1336.04ZM1360.47 844.25H1365.97V863.25H1360.47ZM1394.87 844.25H1400.37V863.25H1394.87ZM1370.92 851H1389.92V856.5H1370.92ZM1370.92 851H1389.92V856.5H1370.92Z"/>
<path d="M212.48 1650 L212.49 1649.87 L212.49 1649.28 L212.51 1648.03 L212.54 1646.02 L212.59 1643.19 L212.64 1639.54 L212.71 1635.11 L212.79 1629.99 L212.87 1624.26 L212.97 1618.06 L213.07 1611.47 L213.18 1604.62 L213.3 1597.58 L213.42 1590.44 L213.54 1583.27 L213.66 1576.1 L213.79 1568.99 L213.92 1561.97 L214.05 1555.06 L214.18 1548.27 L214.31 1541.61 L214.47 1535.1 L214.77 1528.73 L215.06 1522.52 L215.35 1516.45 L215.64 1510.52 L215.93 1504.74 L216.2 1499.1 L216.38 1493.6 L216.56 1488.23 L216.74 1482.99 L216.89 1477.87 L216.97 1472.86 L217.06 1467.98 L217.16 1463.2 L217.25 1458.53 L217.36 1453.96 L217.46 1449.48 L217.57 1445.1 L217.69 1440.81 L217.81 1436.61 L217.93 1432.49 L218.06 1428.45 L218.19 1424.49 L218.33 1420.6 L218.47 1416.78 L218.62 1413.03 L218.77 1409.35 L218.93 1405.73 L219.09 1402.17 L219.25 1398.66 L219.43 1395.22 L219.6 1391.83 L219.78 1388.49 L219.97 1385.2 L220.16 1381.97 L220.36 1378.77 L220.56 1375.63 L220.77 1372.53 L220.98 1369.47 L221.2 1366.45 L221.42 1363.47 L221.65 1360.53 L221.88 1357.63 L222.12 1354.76 L222.37 1351.93 L222.62 1349.13 L222.88 1346.37 L223.14 1343.63 L223.41 1340.93 L223.68 1338.26 L223.96 1335.61 L224.25 1333 L224.54 1330.41 L224.84 1327.85 L225.14 1325.31 L225.45 1322.8 L225.77 1320.31 L226.09 1317.85 L226.42 1315.41 L226.75 1312.99 L227.09 1310.6 L227.44 1308.22 L227.79 1305.87 L228.15 1303.53 L228.52 1301.22 L228.89 1298.92 L229.27 1296.65 L229.66 1294.39 L230.05 1292.15 L230.45 1289.92 L230.85 1287.72 L231.27 1285.53 L231.69 1283.35 L232.11 1281.19 L232.54 1279.05 L232.98 1276.92 L233.43 1274.81 L233.88 1272.71 L234.34 1270.62 L234.81 1268.55 L235.28 1266.49 L235.76 1264.44 L236.25 1262.41 L236.74 1260.39 L237.25 1258.38 L237.75 1256.38 L238.27 1254.4 L238.79 1252.43 L239.33 1250.46 L239.86 1248.51 L240.41 1246.57 L240.96 1244.64 L241.52 1242.72 L242.09 1240.82 L242.66 1238.92 L243.25 1237.03 L243.84 1235.15 L244.43 1233.28 L245.04 1231.42 L245.65 1229.57 L246.27 1227.73 L246.9 1225.89 L247.54 1224.07 L248.18 1222.25 L248.83 1220.45 L249.49 1218.65 L250.16 1216.86 L250.83 1215.08 L251.51 1213.3 L252.2 1211.53 L252.9 1209.78 L253.61 1208.02 L254.32 1206.28 L255.05 1204.54 L255.78 1202.82 L256.52 1201.09 L257.26 1199.38 L258.02 1197.67 L258.78 1195.97 L259.55 1194.28 L260.33 1192.59 L261.12 1190.91 L261.92 1189.24 L262.72 1187.57 L263.53 1185.91 L264.35 1184.25 L265.18 1182.61 L266.02 1180.96 L266.87 1179.33 L267.72 1177.7 L268.59 1176.08 L269.46 1174.46 L270.34 1172.85 L271.23 1171.24 L272.13 1169.64 L273.04 1168.05 L273.95 1166.46 L274.88 1164.88 L275.81 1163.3 L276.75 1161.73 L277.7 1160.16 L278.66 1158.6 L279.63 1157.05 L280.61 1155.5 L281.59 1153.95 L282.59 1152.41 L283.59 1150.88 L284.6 1149.35 L285.63 1147.82 L286.66 1146.31 L287.7 1144.79 L288.75 1143.28 L289.81 1141.78 L290.87 1140.28 L291.95 1138.79 L293.04 1137.3 L294.13 1135.81 L295.24 1134.33 L296.35 1132.86 L297.47 1131.39 L298.61 1129.92 L299.75 1128.46 L300.9 1127.01 L302.06 1125.56 L303.23 1124.11 L304.41 1122.67 L305.6 1121.23 L306.8 1119.8 L308.01 1118.37 L309.23 1116.94 L310.45 1115.52 L311.69 1114.11 L312.94 1112.7 L314.19 1111.29 L315.46 1109.89 L316.73 1108.49 L318.02 1107.09 L319.32 1105.7 L320.62 1104.32 L321.94 1102.94 L323.26 1101.56 L324.6 1100.19 L325.94 1098.82 L327.29 1097.45 L328.66 1096.09 L330.03 1094.74 L331.42 1093.38 L332.81 1092.03 L334.22 1090.69 L335.63 1089.35 L337.06 1088.01 L338.49 1086.68 L339.94 1085.35 L341.39 1084.03 L342.86 1082.7 L344.33 1081.39 L345.82 1080.07 L347.31 1078.76 L348.82 1077.46 L350.34 1076.16 L351.86 1074.86 L353.4 1073.56 L354.95 1072.27 L356.51 1070.99 L358.08 1069.7 L359.65 1068.42 L361.24 1067.15 L362.84 1065.87 L364.45 1064.61 L366.08 1063.34 L367.71 1062.08 L369.35 1060.82 L371 1059.57 L372.66 1058.32 L374.34 1057.07 L376.02 1055.82 L377.72 1054.58 L379.42 1053.35 L381.14 1052.11 L382.87 1050.88 L384.61 1049.66 L386.36 1048.43 L388.12 1047.21 L389.89 1046 L391.67 1044.79 L393.46 1043.58 L395.27 1042.37 L397.08 1041.17 L398.91 1039.97 L400.74 1038.77 L402.59 1037.58 L404.45 1036.39 L406.32 1035.2 L408.2 1034.02 L410.09 1032.84 L411.99 1031.66 L413.91 1030.49 L415.83 1029.32 L417.77 1028.15 L419.72 1026.99 L421.67 1025.83 L423.64 1024.67 L425.63 1023.51 L427.62 1022.36 L429.62 1021.21 L431.64 1020.07 L433.66 1018.93 L435.7 1017.79 L437.75 1016.65 L439.81 1015.52 L441.88 1014.39 L443.97 1013.26 L446.06 1012.14 L448.17 1011.02 L450.29 1009.9 L452.42 1008.78 L454.56 1007.67 L456.71 1006.56 L458.87 1005.46 L461.05 1004.35 L463.24 1003.25 L465.44 1002.15 L467.65 1001.06 L469.87 999.97 L472.11 998.88 L474.35 997.79 L476.61 996.71 L478.88 995.63 L481.16 994.55 L483.45 993.47 L485.76 992.4 L488.08 991.33 L490.41 990.27 L492.75 989.2 L495.1 988.14 L497.46 987.08 L499.84 986.03 L502.23 984.97 L504.63 983.92 L507.04 982.87 L509.47 981.83 L511.91 980.79 L514.35 979.75 L516.82 978.71 L519.29 977.67 L521.77 976.64 L524.27 975.61 L526.78 974.59 L529.3 973.56 L531.84 972.54 L534.38 971.52 L536.94 970.5 L539.51 969.49 L542.1 968.48 L544.69 967.47 L547.3 966.46 L549.92 965.46 L552.56 964.46 L555.2 963.46 L557.86 962.46 L560.53 961.47 L563.21 960.48 L565.91 959.49 L568.61 958.5 L571.33 957.52 L574.07 956.53 L576.81 955.55 L579.57 954.58 L582.34 953.6 L585.12 952.63 L587.92 951.66 L590.73 950.69 L593.55 949.73 L596.38 948.76 L599.23 947.8 L602.09 946.84 L604.96 945.89 L607.84 944.93 L610.74 943.98 L613.65 943.03 L616.57 942.08 L619.51 941.14 L622.46 940.2 L625.42 939.26 L628.4 938.32 L631.38 937.38 L634.38 936.45 L637.4 935.52 L640.42 934.59 L643.46 933.66 L646.52 932.73 L649.58 931.81 L652.66 930.89 L655.75 929.97 L658.86 929.06 L661.97 928.14 L665.1 927.23 L668.25 926.32 L671.41 925.41 L674.58 924.51 L677.76 923.6 L680.96 922.7 L684.17 921.8 L687.39 920.9 L690.63 920.01 L693.88 919.11 L697.14 918.22 L700.42 917.33 L703.71 916.44 L707.01 915.56 L710.33 914.68 L713.66 913.79 L717 912.91 L720.36 912.04 L723.73 911.16 L727.11 910.29 L730.51 909.42 L733.92 908.55 L737.34 907.68 L740.78 906.81 L744.23 905.95 L747.7 905.09 L751.18 904.23 L754.67 903.37 L758.17 902.51 L761.69 901.66 L765.23 900.81 L768.77 899.96 L772.34 899.11 L775.91 898.26 L779.5 897.42 L783.1 896.57 L786.71 895.73 L790.34 894.89 L793.99 894.05 L797.64 893.22 L801.32 892.38 L805 891.55" fill="none" stroke="#ff0000" stroke-opacity="0.5" stroke-width="22.6" stroke-linejoin="round" stroke-linecap="butt"/>
<path fill="#008000" d="M271.05 1500.5H276.55V1519.5H271.05ZM308.45 1500.5H313.95V1519.5H308.45ZM283 1496.75H302V1502.25H283ZM283 1517.75H302V1523.25H283ZM308.9 1456.75H314.4V1475.75H308.9ZM346.3 1456.75H351.8V1475.75H346.3ZM320.85 1447H339.85V1452.5H320.85ZM320.85 1480H339.85V1485.5H320.85ZM346.75 1395H352.25V1414H346.75ZM384.15 1395H389.65V1414H384.15ZM358.7 1389.25H377.7V1394.75H358.7ZM358.7 1414.25H377.7V1419.75H358.7ZM384.6 1360H390.1V1379H384.6ZM422 1360H427.5V1379H422ZM396.55 1356.25H415.55V1361.75H396.55ZM396.55 1377.25H415.55V1382.75H396.55ZM422.45 1337.5H427.95V1356.5H422.45ZM459.85 1337.5H465.35V1356.5H459.85ZM434.4 1329.25H453.4V1334.75H434.4ZM434.4 1359.25H453.4V1364.75H434.4ZM460.3 1290H465.8V1309H460.3ZM497.7 1290H503.2V1309H497.7ZM472.25 1281.75H491.25V1287.25H472.25ZM472.25 1311.75H491.25V1317.25H472.25ZM498.15 1275.25H503.65V1294.25H498.15ZM535.55 1275.25H541.05V1294.25H535.55ZM510.1 1274H529.1V1279.5H510.1ZM510.1 1290H529.1V1295.5H510.1ZM536 1253H541.5V1272H536ZM573.4 1253H578.9V1272H573.4ZM547.95 1247.75H566.95V1253.25H547.95ZM547.95 1271.75H566.95V1277.25H547.95ZM573.85 1239.25H579.35V1258.25H573.85ZM611.25 1239.25H616.75V1258.25H611.25ZM585.8 1233H604.8V1238.5H585.8ZM585.8 1259H604.8V1264.5H585.8ZM611.7 1212.5H617.2V1231.5H611.7ZM649.1 1212.5H654.6V1231.5H649.1ZM623.65 1211.25H642.65V1216.75H623.65ZM623.65 1227.25H642.65V1232.75H623.65ZM649.55 1193H655.05V1212H649.55ZM686.95 1193H692.45V1212H686.95ZM661.5 1188.25H680.5V1193.75H661.5ZM661.5 1211.25H680.5V1216.75H661.5ZM687.4 1178H692.9V1197H687.4ZM724.8 1178H730.3V1197H724.8ZM699.35 1172.75H718.35V1178.25H699.35ZM699.35 1196.75H718.35V1202.25H699.35ZM725.25 1170H730.75V1189H725.25ZM762.65 1170H768.15V1189H762.65ZM737.2 1168.25H756.2V1173.75H737.2ZM737.2 1185.25H756.2V1190.75H737.2ZM763.1 1147.5H768.6V1166.5H763.1ZM800.5 1147.5H806V1166.5H800.5ZM775.05 1147.25H794.05V1152.75H775.05ZM775.05 1161.25H794.05V1166.75H775.05ZM800.95 1136.75H806.45V1155.75H800.95ZM838.35 1136.75H843.85V1155.75H838.35ZM812.9 1136.5H831.9V1142H812.9ZM812.9 1150.5H831.9V1156H812.9ZM838.8 1120H844.3V1139H838.8ZM876.2 1120H881.7V1139H876.2ZM850.75 1119.75H869.75V1125.25H850.75ZM850.75 1133.75H869.75V1139.25H850.75ZM876.65 1117.5H882.15V1136.5H876.65ZM914.05 1117.5H919.55V1136.5H914.05ZM888.6 1117.25H907.6V1122.75H888.6ZM888.6 1131.25H907.6V1136.75H888.6ZM914.5 1100.5H920V1119.5H914.5ZM951.9 1100.5H957.4V1119.5H951.9ZM926.45 1099.25H945.45V1104.75H926.45ZM926.45 1115.25H945.45V1120.75H926.45ZM952.35 1101.75H957.85V1120.75H952.35ZM989.75 1101.75H995.25V1120.75H989.75ZM964.3 1100.5H983.3V1106H964.3ZM964.3 1116.5H983.3V1122H964.3ZM990.2 1095.5H995.7V1114.5H990.2ZM1027.6 1095.5H1033.1V1114.5H1027.6ZM1002.15 1095.25H1021.15V1100.75H1002.15ZM1002.15 1109.25H1021.15V1114.75H1002.15ZM1028.05 1092.5H1033.55V1111.5H1028.05ZM1065.45 1092.5H1070.95V1111.5H1065.45ZM1040 1090.25H1059V1095.75H1040ZM1040 1108.25H1059V1113.75H1040ZM1065.9 1083H1071.4V1102H1065.9ZM1103.3 1083H1108.8V1102H1103.3ZM1077.85 1083.75H1096.85V1089.25H1077.85ZM1077.85 1095.75H1096.85V1101.25H1077.85ZM1103.75 1071.75H1109.25V1090.75H1103.75ZM1141.15 1071.75H1146.65V1090.75H1141.15ZM1115.7 1070.5H1134.7V1076H1115.7ZM1115.7 1086.5H1134.7V1092H1115.7ZM1141.6 1065.5H1147.1V1084.5H1141.6ZM1179 1065.5H1184.5V1084.5H1179ZM1153.55 1065.25H1172.55V1070.75H1153.55ZM1153.55 1079.25H1172.55V1084.75H1153.55ZM1179.45 1059.25H1184.95V1078.25H1179.45ZM1216.85 1059.25H1222.35V1078.25H1216.85ZM1191.4 1059H1210.4V1064.5H1191.4ZM1191.4 1073H1210.4V1078.5H1191.4ZM1217.3 1051.25H1222.8V1070.25H1217.3ZM1254.7 1051.25H1260.2V1070.25H1254.7ZM1229.25 1052H1248.25V1057.5H1229.25ZM1229.25 1064H1248.25V1069.5H1229.25ZM1255.15 1048H1260.65V1067H1255.15ZM1292.55 1048H1298.05V1067H1292.55ZM1267.1 1050.75H1286.1V1056.25H1267.1ZM1267.1 1058.75H1286.1V1064.25H1267.1ZM1293 1038H1298.5V1057H1293ZM1330.4 1038H1335.9V1057H1330.4ZM1304.95 1038.75H1323.95V1044.25H1304.95ZM1304.95 1050.75H1323.95V1056.25H1304.95ZM1330.85 1031.75H1336.35V1050.75H1330.85ZM1368.25 1031.75H1373.75V1050.75H1368.25ZM1342.8 1034.5H1361.8V1040H1342.8ZM1342.8 1042.5H1361.8V1048H1342.8ZM1368.7 1025.5H1374.2V1044.5H1368.7ZM1406.1 1025.5H1411.6V1044.5H1406.1ZM1380.65 1026.25H1399.65V1031.75H1380.65ZM1380.65 1038.25H1399.65V1043.75H1380.65ZM1406.55 1021.75H1412.05V1040.75H1406.55ZM1443.95 1021.75H1449.45V1040.75H1443.95ZM1418.5 1024.5H1437.5V1030H1418.5ZM1418.5 1032.5H1437.5V1038H1418.5ZM1444.4 1018H1449.9V1037H1444.4ZM1481.8 1018H1487.3V1037H1481.8ZM1456.35 1020.75H1475.35V1026.25H1456.35ZM1456.35 1028.75H1475.35V1034.25H1456.35ZM1482.25 1014.25H1487.75V1033.25H1482.25ZM1519.65 1014.25H1525.15V1033.25H1519.65ZM1494.2 1015H1513.2V1020.5H1494.2ZM1494.2 1027H1513.2V1032.5H1494.2ZM1520.1 1006.75H1525.6V1025.75H1520.1ZM1557.5 1006.75H1563V1025.75H1557.5ZM1532.05 1007.5H1551.05V1013H1532.05ZM1532.05 1019.5H1551.05V1025H1532.05ZM1557.95 1003H1563.45V1022H1557.95ZM1595.35 1003H1600.85V1022H1595.35ZM1569.9 1006.75H1588.9V1012.25H1569.9ZM1569.9 1012.75H1588.9V1018.25H1569.9Z"/>
<path d="M363.72 1650 L363.73 1649.98 L363.73 1649.89 L363.73 1649.68 L363.74 1649.35 L363.75 1648.87 L363.76 1648.23 L363.78 1647.42 L363.8 1646.42 L363.83 1645.23 L363.86 1643.86 L363.9 1642.29 L363.94 1640.54 L363.98 1638.6 L364.04 1636.48 L364.09 1634.2 L364.16 1631.76 L364.23 1629.17 L364.31 1626.45 L364.39 1623.6 L364.48 1620.64 L364.58 1617.58 L364.68 1614.43 L364.79 1611.21 L364.91 1607.92 L365.03 1604.57 L365.16 1601.18 L365.3 1597.76 L365.45 1594.3 L365.61 1590.83 L365.77 1587.34 L365.94 1583.85 L366.12 1580.35 L366.31 1576.86 L366.51 1573.38 L366.71 1569.91 L366.92 1566.45 L367.15 1563.01 L367.38 1559.6 L367.62 1556.21 L367.87 1552.84 L368.13 1549.5 L368.39 1546.18 L368.67 1542.9 L368.96 1539.65 L369.25 1536.42 L369.64 1533.23 L370.06 1530.07 L370.48 1526.94 L370.9 1523.84 L371.34 1520.78 L371.79 1517.74 L372.25 1514.74 L372.72 1511.77 L373.19 1508.83 L373.68 1505.92 L374.18 1503.04 L374.68 1500.19 L375.2 1497.38 L375.73 1494.59 L376.26 1491.83 L376.81 1489.1 L377.37 1486.39 L377.94 1483.72 L378.52 1481.07 L379.11 1478.44 L379.71 1475.85 L380.32 1473.28 L380.95 1470.73 L381.56 1468.21 L382.18 1465.71 L382.81 1463.24 L383.45 1460.79 L384.1 1458.36 L384.77 1455.95 L385.45 1453.57 L386.14 1451.2 L386.84 1448.86 L387.55 1446.54 L388.28 1444.24 L389.02 1441.95 L389.77 1439.69 L390.54 1437.44 L391.32 1435.22 L392.11 1433.01 L392.91 1430.81 L393.73 1428.64 L394.56 1426.48 L395.41 1424.34 L396.27 1422.21 L397.15 1420.1 L398.05 1418.01 L398.95 1415.93 L399.87 1413.87 L400.8 1411.81 L401.75 1409.78 L402.71 1407.75 L403.69 1405.75 L404.68 1403.75 L405.68 1401.77 L406.7 1399.79 L407.73 1397.84 L408.78 1395.89 L409.83 1393.96 L410.9 1392.03 L411.97 1390.12 L413.07 1388.22 L414.18 1386.33 L415.3 1384.45 L416.44 1382.58 L417.59 1380.73 L418.76 1378.88 L419.94 1377.04 L421.14 1375.21 L422.36 1373.39 L423.59 1371.58 L424.83 1369.78 L426.09 1367.99 L427.37 1366.21 L428.65 1364.43 L429.93 1362.67 L431.23 1360.91 L432.54 1359.16 L433.87 1357.42 L435.21 1355.68 L436.57 1353.96 L437.95 1352.24 L439.34 1350.52 L440.75 1348.82 L442.18 1347.12 L443.62 1345.43 L445.08 1343.75 L446.56 1342.07 L448.06 1340.4 L449.57 1338.74 L451.09 1337.08 L452.64 1335.43 L454.2 1333.78 L455.78 1332.14 L457.38 1330.51 L458.99 1328.88 L460.62 1327.26 L462.27 1325.65 L459.44 1328.32 L461.12 1326.64 L462.82 1324.95 L464.54 1323.28 L466.28 1321.6 L468.03 1319.94 L469.8 1318.27 L471.59 1316.61 L473.4 1314.96 L475.23 1313.3 L477.07 1311.66 L478.94 1310.01 L480.82 1308.39 L482.72 1306.81 L484.63 1305.23 L486.57 1303.65 L488.52 1302.08 L490.5 1300.51 L492.49 1298.94 L494.5 1297.38 L496.53 1295.82 L498.58 1294.27 L500.64 1292.72 L502.73 1291.17 L504.83 1289.63 L506.96 1288.09 L509.1 1286.55 L511.26 1285.02 L513.44 1283.49 L515.64 1281.96 L517.86 1280.44 L520.1 1278.92 L522.35 1277.4 L524.63 1275.89 L526.93 1274.38 L529.24 1272.87 L531.58 1271.37 L533.94 1269.87 L536.31 1268.37 L538.71 1266.87 L541.12 1265.38 L543.56 1263.89 L546.01 1262.4 L548.48 1260.92 L550.98 1259.43 L553.49 1257.95 L556.03 1256.45 L558.58 1254.96 L561.16 1253.46 L563.75 1251.97 L566.37 1250.49 L569.01 1249 L571.66 1247.52 L574.34 1246.03 L577.04 1244.55 L579.76 1243.08 L582.5 1241.6 L585.26 1240.13 L588.04 1238.66 L590.84 1237.19 L593.66 1235.73 L596.5 1234.26 L599.37 1232.8 L602.25 1231.34 L605.16 1229.89 L608.09 1228.43 L611.04 1226.98 L614.01 1225.53 L617 1224.08 L620.01 1222.63 L623.04 1221.19 L626.1 1219.75 L629.18 1218.32 L632.28 1216.89 L635.4 1215.46 L638.54 1214.03 L641.7 1212.61 L644.89 1211.19 L648.09 1209.77 L651.32 1208.35 L654.57 1206.94 L657.84 1205.52 L661.14 1204.11 L664.46 1202.7 L667.79 1201.3 L671.16 1199.89 L674.54 1198.49 L677.94 1197.08 L681.37 1195.68 L684.82 1194.28 L688.29 1192.89 L691.79 1191.49 L695.31 1190.1 L698.85 1188.72 L702.41 1187.36 L705.99 1186 L709.6 1184.65 L713.23 1183.3 L716.88 1181.95 L720.56 1180.6 L724.26 1179.26 L727.98 1177.91 L731.72 1176.57 L735.49 1175.23 L739.28 1173.89 L743.1 1172.56 L746.93 1171.22 L750.79 1169.89 L754.68 1168.56 L758.58 1167.23 L762.51 1165.91 L766.46 1164.58 L770.44 1163.26 L774.44 1161.94 L778.47 1160.62 L782.51 1159.38 L786.58 1158.19 L790.68 1157 L794.8 1155.81 L798.94 1154.63 L803.1 1153.45 L807.29 1152.27 L811.51 1151.09 L815.74 1149.92 L820 1148.75 L824.29 1147.58 L828.6 1146.41 L832.93 1145.25 L837.29 1144.09 L841.67 1142.93 L846.08 1141.78 L850.51 1140.62 L854.96 1139.47 L859.44 1138.32 L863.94 1137.18 L868.47 1136.04 L873.02 1134.89 L877.6 1133.76 L882.2 1132.62 L886.83 1131.49 L891.48 1130.36 L896.15 1129.23 L900.85 1128.1 L905.58 1126.95 L910.33 1125.8 L915.1 1124.66 L919.9 1123.52 L924.73 1122.38 L929.58 1121.24 L934.45 1120.11 L939.35 1118.98 L944.27 1117.85 L949.22 1116.72 L954.2 1115.59 L959.2 1114.47 L964.23 1113.35 L969.28 1112.23 L974.35 1111.12 L979.46 1110 L984.58 1108.89 L989.74 1107.78 L994.92 1106.68 L1000.12 1105.57 L1005.35 1104.45 L1010.6 1103.33 L1015.89 1102.21 L1021.19 1101.09 L1026.53 1099.98 L1031.89 1098.86 L1037.27 1097.75 L1042.68 1096.65 L1048.12 1095.54 L1053.58 1094.44 L1059.07 1093.34 L1064.58 1092.24 L1070.13 1091.14 L1075.69 1090.04 L1081.29 1088.95 L1086.91 1087.86 L1092.55 1086.77 L1098.22 1085.69 L1103.92 1084.6 L1109.65 1083.52 L1115.4 1082.43 L1121.18 1081.36 L1126.98 1080.28 L1132.82 1079.2 L1138.67 1078.13 L1144.56 1077.06 L1150.47 1075.99 L1156.41 1074.92 L1162.37 1073.86 L1168.37 1072.79 L1174.38 1071.73 L1180.43 1070.68 L1186.5 1069.62 L1192.6 1068.56 L1198.73 1067.51 L1204.88 1066.46 L1211.06 1065.41 L1217.27 1064.37 L1223.51 1063.32 L1229.77 1062.28 L1236.06 1061.24 L1242.38 1060.2 L1248.72 1059.16 L1255.1 1058.13 L1261.49 1057.1 L1267.92 1056.07 L1274.38 1055.04 L1280.86 1054.01 L1287.37 1052.99 L1293.91 1051.97 L1300.47 1050.95 L1307.06 1049.93 L1313.68 1048.91 L1320.33 1047.87 L1327.01 1046.83 L1333.71 1045.8 L1340.44 1044.77 L1347.2 1043.73 L1353.99 1042.7 L1360.81 1041.68 L1367.65 1040.65 L1374.52 1039.63 L1381.42 1038.6 L1388.35 1037.58 L1395.31 1036.56 L1402.29 1035.55 L1409.31 1034.53 L1416.35 1033.52 L1423.42 1032.51 L1430.52 1031.5 L1437.64 1030.49 L1444.8 1029.48 L1451.98 1028.48 L1459.2 1027.48 L1466.44 1026.48 L1473.71 1025.48 L1481.01 1024.48 L1488.33 1023.49 L1495.69 1022.49 L1503.07 1021.5 L1510.49 1020.51 L1517.93 1019.52 L1525.4 1018.54 L1532.9 1017.55 L1540.43 1016.57 L1547.99 1015.59 L1555.57 1014.61 L1563.19 1013.63 L1570.84 1012.65 L1578.51 1011.68 L1586.21 1010.71 L1593.95 1009.74 L1601.71 1008.77 L1609.5 1007.8" fill="none" stroke="#008000" stroke-opacity="0.5" stroke-width="22.6" stroke-linejoin="round" stroke-linecap="butt"/>
<g fill="#0000ff"><circle cx="295.75" cy="1216.5" r="9.4"/><circle cx="335.06" cy="1130.5" r="9.4"/><circle cx="374.37" cy="1077.5" r="9.4"/><circle cx="413.68" cy="1035.75" r="9.4"/><circle cx="452.99" cy="998.75" r="9.4"/><circle cx="492.3" cy="975" r="9.4"/><circle cx="531.61" cy="952.5" r="9.4"/><circle cx="570.92" cy="934" r="9.4"/><circle cx="610.23" cy="919.25" r="9.4"/><circle cx="649.54" cy="905.5" r="9.4"/><circle cx="688.85" cy="898.75" r="9.4"/><circle cx="728.16" cy="892" r="9.4"/><circle cx="767.47" cy="886.25" r="9.4"/><circle cx="806.78" cy="878.75" r="9.4"/><circle cx="846.09" cy="873" r="9.4"/><circle cx="885.4" cy="870" r="9.4"/><circle cx="924.71" cy="867" r="9.4"/><circle cx="964.02" cy="863.75" r="9.4"/><circle cx="1003.33" cy="862" r="9.4"/><circle cx="1042.64" cy="860" r="9.4"/><circle cx="1081.95" cy="858" r="9.4"/><circle cx="1121.26" cy="856.25" r="9.4"/><circle cx="1160.57" cy="855" r="9.4"/><circle cx="1199.88" cy="854.5" r="9.4"/><circle cx="1239.19" cy="853.5" r="9.4"/><circle cx="1278.5" cy="853" r="9.4"/><circle cx="1317.81" cy="852.5" r="9.4"/><circle cx="1357.12" cy="852" r="9.4"/><circle cx="1396.43" cy="851.25" r="9.4"/><circle cx="1435.74" cy="850.75" r="9.4"/><circle cx="1475.05" cy="850.5" r="9.4"/><circle cx="1514.36" cy="850" r="9.4"/><circle cx="1553.67" cy="850" r="9.4"/><circle cx="1592.98" cy="849.5" r="9.4"/></g>
<g fill="#ff0000"><circle cx="194.5" cy="1333.75" r="9.4"/><circle cx="229.38" cy="1243" r="9.4"/><circle cx="264.26" cy="1183" r="9.4"/><circle cx="299.14" cy="1139.5" r="9.4"/><circle cx="334.02" cy="1098" r="9.4"/><circle cx="368.9" cy="1060.75" r="9.4"/><circle cx="403.78" cy="1035" r="9.4"/><circle cx="438.66" cy="1020" r="9.4"/><circle cx="473.54" cy="996.25" r="9.4"/><circle cx="508.42" cy="976.25" r="9.4"/><circle cx="543.3" cy="964" r="9.4"/><circle cx="578.18" cy="955.5" r="9.4"/><circle cx="613.06" cy="941.25" r="9.4"/><circle cx="647.94" cy="927.5" r="9.4"/><circle cx="682.82" cy="921.25" r="9.4"/><circle cx="717.7" cy="913" r="9.4"/><circle cx="752.58" cy="906.25" r="9.4"/><circle cx="787.46" cy="902.5" r="9.4"/><circle cx="822.34" cy="898.75" r="9.4"/><circle cx="857.22" cy="892" r="9.4"/><circle cx="892.1" cy="886.25" r="9.4"/><circle cx="926.98" cy="879.5" r="9.4"/><circle cx="961.86" cy="875.5" r="9.4"/><circle cx="996.74" cy="873.75" r="9.4"/><circle cx="1031.62" cy="870.75" r="9.4"/><circle cx="1066.5" cy="867.5" r="9.4"/><circle cx="1101.38" cy="864.5" r="9.4"/><circle cx="1136.26" cy="863" r="9.4"/><circle cx="1171.14" cy="860.75" r="9.4"/><circle cx="1206.02" cy="858.75" r="9.4"/><circle cx="1240.9" cy="857.5" r="9.4"/><circle cx="1275.78" cy="855.75" r="9.4"/><circle cx="1310.66" cy="855" r="9.4"/><circle cx="1345.54" cy="854.5" r="9.4"/><circle cx="1380.42" cy="853.75" r="9.4"/></g>
<g fill="#008000"><circle cx="292.5" cy="1510" r="9.4"/><circle cx="330.35" cy="1466.25" r="9.4"/><circle cx="368.2" cy="1404.5" r="9.4"/><circle cx="406.05" cy="1369.5" r="9.4"/><circle cx="443.9" cy="1347" r="9.4"/><circle cx="481.75" cy="1299.5" r="9.4"/><circle cx="519.6" cy="1284.75" r="9.4"/><circle cx="557.45" cy="1262.5" r="9.4"/><circle cx="595.3" cy="1248.75" r="9.4"/><circle cx="633.15" cy="1222" r="9.4"/><circle cx="671" cy="1202.5" r="9.4"/><circle cx="708.85" cy="1187.5" r="9.4"/><circle cx="746.7" cy="1179.5" r="9.4"/><circle cx="784.55" cy="1157" r="9.4"/><circle cx="822.4" cy="1146.25" r="9.4"/><circle cx="860.25" cy="1129.5" r="9.4"/><circle cx="898.1" cy="1127" r="9.4"/><circle cx="935.95" cy="1110" r="9.4"/><circle cx="973.8" cy="1111.25" r="9.4"/><circle cx="1011.65" cy="1105" r="9.4"/><circle cx="1049.5" cy="1102" r="9.4"/><circle cx="1087.35" cy="1092.5" r="9.4"/><circle cx="1125.2" cy="1081.25" r="9.4"/><circle cx="1163.05" cy="1075" r="9.4"/><circle cx="1200.9" cy="1068.75" r="9.4"/><circle cx="1238.75" cy="1060.75" r="9.4"/><circle cx="1276.6" cy="1057.5" r="9.4"/><circle cx="1314.45" cy="1047.5" r="9.4"/><circle cx="1352.3" cy="1041.25" r="9.4"/><circle cx="1390.15" cy="1035" r="9.4"/><circle cx="1428" cy="1031.25" r="9.4"/><circle cx="1465.85" cy="1027.5" r="9.4"/><circle cx="1503.7" cy="1023.75" r="9.4"/><circle cx="1541.55" cy="1016.25" r="9.4"/><circle cx="1579.4" cy="1012.5" r="9.4"/></g>
</g>
<g fill="#000" shape-rendering="crispEdges">
<rect x="153" y="69" width="10" height="1477" fill="#000"/>
<rect x="1630" y="69" width="10" height="1477" fill="#000"/>
<rect x="153" y="69" width="1487" height="10" fill="#000"/>
<rect x="153" y="803" width="1487" height="9" fill="#000"/>
<rect x="153" y="1536" width="1487" height="10" fill="#000"/>
<rect x="172" y="78" width="10" height="19" fill="#000"/>
<rect x="800" y="78" width="10" height="19" fill="#000"/>
<rect x="1429" y="78" width="10" height="19" fill="#000"/>
<rect x="172" y="1518" width="10" height="19" fill="#000"/>
<rect x="541" y="1518" width="10" height="19" fill="#000"/>
<rect x="910" y="1518" width="10" height="19" fill="#000"/>
<rect x="1279.5" y="1518" width="10" height="19" fill="#000"/>
<rect x="162" y="133" width="19" height="10" fill="#000"/>
<rect x="162" y="367.5" width="19" height="10" fill="#000"/>
<rect x="162" y="603" width="19" height="10" fill="#000"/>
<rect x="162" y="969" width="19" height="10" fill="#000"/>
<rect x="162" y="1167" width="19" height="10" fill="#000"/>
<rect x="162" y="1364.3" width="19" height="10" fill="#000"/>
</g>
<text x="163.06" y="48.3" font-size="44.5" style="letter-spacing:0px">0</text>
<text x="764.3 790.85 818.85" y="48.3" font-size="44.5">100</text>
<text x="1390.66" y="48.3" font-size="44.5" style="letter-spacing:3.91px">200</text>
<text x="163.06" y="1589.4" font-size="44.5" style="letter-spacing:0px">0</text>
<text x="516.51" y="1589.4" font-size="44.5" style="letter-spacing:4.48px">20</text>
<text x="885.98" y="1589.4" font-size="44.5" style="letter-spacing:4.76px">40</text>
<text x="1254.34" y="1589.4" font-size="44.5" style="letter-spacing:4.7px">60</text>
<text x="64.3 92" y="153.8" font-size="44.5">10</text>
<text x="120.49" y="137.5" font-size="31" style="letter-spacing:0px">4</text>
<text x="64.3 92" y="388.3" font-size="44.5">10</text>
<text x="119.64" y="372" font-size="31" style="letter-spacing:0px">2</text>
<text x="64.3 92" y="623.8" font-size="44.5">10</text>
<text x="119.99" y="607.5" font-size="31" style="letter-spacing:0px">0</text>
<text x="64.3 92" y="989.8" font-size="44.5">10</text>
<text x="119.96" y="973.5" font-size="31" style="letter-spacing:0px">5</text>
<text x="64.3 92" y="1187.8" font-size="44.5">10</text>
<text x="120.49" y="1171.5" font-size="31" style="letter-spacing:0px">4</text>
<text x="64.3 92" y="1385.1" font-size="44.5">10</text>
<text x="120.02" y="1368.8" font-size="31" style="letter-spacing:0px">3</text>
<text x="208.28" y="145.6" font-size="44.5" class="b" style="letter-spacing:0.77px">(a)</text>
<text x="208.53" y="896.8" font-size="44.5" class="b" style="letter-spacing:0.93px">(b)</text>
<text transform="translate(54.1 517.83) rotate(-90)" font-size="44.5" class="b" style="letter-spacing:2.36px">Counts</text>
<text transform="translate(54.1 1250.83) rotate(-90)" font-size="44.5" class="b" style="letter-spacing:2.36px">Counts</text>
<text y="1638.2" font-size="44.5" class="b" style="letter-spacing:2.4px"><tspan x="515.02">Ionization</tspan> <tspan x="760.79">laser</tspan> <tspan x="889.64">intensity(GW/cm</tspan><tspan font-size="31" dy="-16.2">2</tspan><tspan dy="16.2">)</tspan></text>
<g shape-rendering="crispEdges">
<rect x="1131" y="607" width="42" height="8" fill="#0000ff"/>
<rect x="1127" y="601" width="6" height="19" fill="#0000ff"/>
<rect x="1172" y="601" width="5" height="19" fill="#0000ff"/>
<rect x="1148" y="590" width="8" height="42" fill="#0000ff"/>
<rect x="1143" y="586" width="19" height="5" fill="#0000ff"/>
<rect x="1143" y="630" width="19" height="6" fill="#0000ff"/>
<circle cx="1152" cy="611" r="9.4" fill="#0000ff"/>
<rect x="1131" y="672" width="42" height="8" fill="#ff0000"/>
<rect x="1127" y="666" width="6" height="19" fill="#ff0000"/>
<rect x="1172" y="666" width="5" height="19" fill="#ff0000"/>
<rect x="1148" y="655" width="8" height="42" fill="#ff0000"/>
<rect x="1143" y="651" width="19" height="5" fill="#ff0000"/>
<rect x="1143" y="695" width="19" height="6" fill="#ff0000"/>
<circle cx="1152" cy="676" r="9.4" fill="#ff0000"/>
<rect x="1131" y="736" width="42" height="8" fill="#008000"/>
<rect x="1127" y="730" width="6" height="19" fill="#008000"/>
<rect x="1172" y="730" width="5" height="19" fill="#008000"/>
<rect x="1148" y="719" width="8" height="42" fill="#008000"/>
<rect x="1143" y="715" width="19" height="5" fill="#008000"/>
<rect x="1143" y="759" width="19" height="6" fill="#008000"/>
<circle cx="1152" cy="740" r="9.4" fill="#008000"/>
</g>
<text x="1210.5" y="625.9" font-size="44.5" style="letter-spacing:2.27px">Paracetamol</text>
<text x="1210.5" y="690.7" font-size="44.5" style="letter-spacing:-0.53px">3-PPIA</text>
<text x="1210.5" y="755.2" font-size="44.5" style="letter-spacing:2.28px">Phenylglycine</text>
<g shape-rendering="crispEdges">
<rect x="1131" y="1343" width="42" height="8" fill="#0000ff"/>
<rect x="1127" y="1337" width="6" height="19" fill="#0000ff"/>
<rect x="1172" y="1337" width="5" height="19" fill="#0000ff"/>
<rect x="1148" y="1326" width="8" height="42" fill="#0000ff"/>
<rect x="1143" y="1322" width="19" height="5" fill="#0000ff"/>
<rect x="1143" y="1366" width="19" height="6" fill="#0000ff"/>
<circle cx="1152" cy="1347" r="9.4" fill="#0000ff"/>
<rect x="1131" y="1408" width="42" height="8" fill="#ff0000"/>
<rect x="1127" y="1402" width="6" height="19" fill="#ff0000"/>
<rect x="1172" y="1402" width="5" height="19" fill="#ff0000"/>
<rect x="1148" y="1391" width="8" height="42" fill="#ff0000"/>
<rect x="1143" y="1387" width="19" height="5" fill="#ff0000"/>
<rect x="1143" y="1431" width="19" height="6" fill="#ff0000"/>
<circle cx="1152" cy="1412" r="9.4" fill="#ff0000"/>
<rect x="1131" y="1473" width="42" height="8" fill="#008000"/>
<rect x="1127" y="1467" width="6" height="19" fill="#008000"/>
<rect x="1172" y="1467" width="5" height="19" fill="#008000"/>
<rect x="1148" y="1456" width="8" height="42" fill="#008000"/>
<rect x="1143" y="1452" width="19" height="5" fill="#008000"/>
<rect x="1143" y="1496" width="19" height="6" fill="#008000"/>
<circle cx="1152" cy="1477" r="9.4" fill="#008000"/>
</g>
<text x="1210.5" y="1361.9" font-size="44.5" style="letter-spacing:2.27px">Paracetamol</text>
<text x="1210.5" y="1426.8" font-size="44.5" style="letter-spacing:-0.53px">3-PPIA</text>
<text x="1210.5" y="1491.6" font-size="44.5" style="letter-spacing:2.28px">Phenylglycine<tspan x="1518.35" dy="-2.7" font-size="37" font-weight="bold" style="letter-spacing:0">×</tspan><tspan x="1544.8 1570.75 1597.65" dy="2.7" style="letter-spacing:0">100</tspan></text>
</svg></body></html>
